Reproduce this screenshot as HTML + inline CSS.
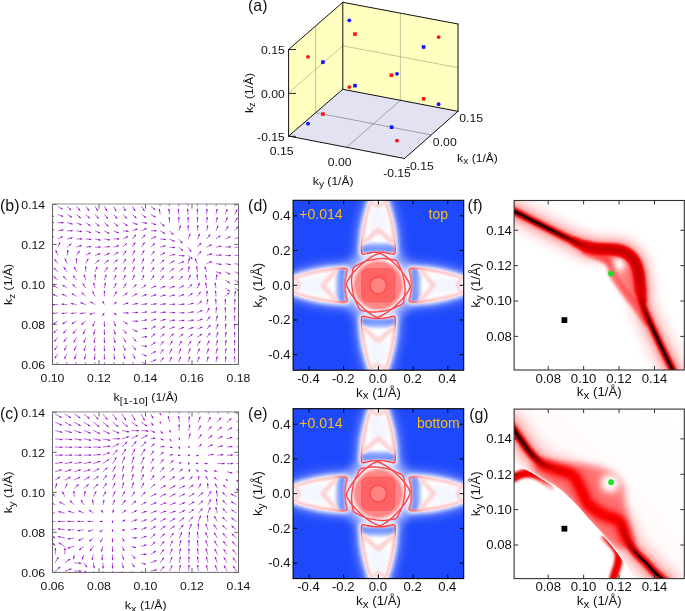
<!DOCTYPE html>
<html><head><meta charset="utf-8"><title>figure</title>
<style>
html,body{margin:0;padding:0;background:#fff;}
body{width:685px;height:611px;overflow:hidden;font-family:"Liberation Sans", sans-serif;}
svg{display:block;font-family:"Liberation Sans", sans-serif;will-change:transform;}
</style></head><body>
<svg width="685" height="611" viewBox="0 0 685 611">
<rect x="0" y="0" width="685" height="611" fill="#ffffff"/>
<g id="panel-a">
<polygon points="288.60,49.50 342.80,2.30 342.80,89.30 288.60,136.10" fill="#ffffbf"/>
<polygon points="342.80,2.30 458.00,24.00 458.00,111.30 342.80,89.30" fill="#ffffbf"/>
<polygon points="288.60,136.10 342.80,89.30 458.00,111.30 404.50,158.50" fill="#e2e2f3"/>
<line x1="315.70" y1="25.90" x2="315.70" y2="112.70" stroke="#8c8c70" stroke-width="0.5" fill="none"/>
<line x1="288.60" y1="92.80" x2="342.80" y2="45.80" stroke="#8c8c70" stroke-width="0.5" fill="none"/>
<line x1="400.40" y1="13.15" x2="400.40" y2="100.30" stroke="#8c8c70" stroke-width="0.5" fill="none"/>
<line x1="342.80" y1="45.80" x2="458.00" y2="67.65" stroke="#8c8c70" stroke-width="0.5" fill="none"/>
<line x1="315.70" y1="112.70" x2="431.25" y2="134.90" stroke="#707078" stroke-width="0.6" fill="none"/>
<line x1="346.55" y1="147.30" x2="400.40" y2="100.30" stroke="#707078" stroke-width="0.6" fill="none"/>
<line x1="288.60" y1="49.50" x2="342.80" y2="2.30" stroke="#111" stroke-width="1" fill="none" stroke-linecap="round"/>
<line x1="342.80" y1="2.30" x2="458.00" y2="24.00" stroke="#111" stroke-width="1" fill="none" stroke-linecap="round"/>
<line x1="458.00" y1="24.00" x2="458.00" y2="111.30" stroke="#111" stroke-width="1" fill="none" stroke-linecap="round"/>
<line x1="288.60" y1="49.50" x2="288.60" y2="136.10" stroke="#111" stroke-width="1" fill="none" stroke-linecap="round"/>
<line x1="342.80" y1="2.30" x2="342.80" y2="89.30" stroke="#111" stroke-width="1" fill="none" stroke-linecap="round"/>
<line x1="288.60" y1="136.10" x2="404.50" y2="158.50" stroke="#111" stroke-width="1" fill="none" stroke-linecap="round"/>
<line x1="404.50" y1="158.50" x2="458.00" y2="111.30" stroke="#111" stroke-width="1" fill="none" stroke-linecap="round"/>
<line x1="342.80" y1="89.30" x2="458.00" y2="111.30" stroke="#111" stroke-width="1" fill="none" stroke-linecap="round"/>
<line x1="288.60" y1="136.10" x2="342.80" y2="89.30" stroke="#111" stroke-width="1" fill="none" stroke-linecap="round"/>
<line x1="288.6" y1="49.5" x2="296" y2="49.5" stroke="#111" stroke-width="0.9"/>
<line x1="288.6" y1="93.4" x2="296" y2="93.4" stroke="#111" stroke-width="0.9"/>
<line x1="288.6" y1="136.3" x2="296" y2="136.3" stroke="#111" stroke-width="0.9"/>
<circle cx="349.3" cy="20.3" r="1.9" fill="#1010ff"/>
<rect x="353.20" y="32.30" width="3.6" height="3.6" fill="#ff1010"/>
<circle cx="438.6" cy="37.1" r="1.9" fill="#ff1010"/>
<rect x="421.80" y="45.20" width="3.6" height="3.6" fill="#1010ff"/>
<rect x="389.60" y="73.40" width="3.6" height="3.6" fill="#ff1010"/>
<circle cx="397.0" cy="73.8" r="1.9" fill="#1010ff"/>
<circle cx="349.3" cy="87.1" r="1.9" fill="#ff1010"/>
<rect x="353.20" y="83.90" width="3.6" height="3.6" fill="#1010ff"/>
<rect x="421.80" y="97.00" width="3.6" height="3.6" fill="#ff1010"/>
<circle cx="438.6" cy="104.2" r="1.9" fill="#1010ff"/>
<circle cx="308.0" cy="56.8" r="1.9" fill="#ff1010"/>
<rect x="321.10" y="60.30" width="3.6" height="3.6" fill="#1010ff"/>
<rect x="321.10" y="112.30" width="3.6" height="3.6" fill="#ff1010"/>
<circle cx="308.0" cy="123.7" r="1.9" fill="#1010ff"/>
<rect x="389.80" y="125.40" width="3.6" height="3.6" fill="#1010ff"/>
<circle cx="397.0" cy="140.7" r="1.9" fill="#ff1010"/>
<text x="248.00" y="11.00" font-size="15.90" text-anchor="start" fill="#111">(a)</text>
<text x="284.80" y="54.00" font-size="11.23" text-anchor="end" fill="#111" textLength="23.83" lengthAdjust="spacingAndGlyphs">0.15</text>
<text x="284.80" y="97.90" font-size="11.23" text-anchor="end" fill="#111" textLength="23.83" lengthAdjust="spacingAndGlyphs">0.00</text>
<text x="284.80" y="141.30" font-size="11.23" text-anchor="end" fill="#111" textLength="27.69" lengthAdjust="spacingAndGlyphs">-0.15</text>
<text x="281.60" y="154.60" font-size="11.23" text-anchor="middle" fill="#111" textLength="23.83" lengthAdjust="spacingAndGlyphs">0.15</text>
<text x="339.60" y="166.00" font-size="11.23" text-anchor="middle" fill="#111" textLength="23.83" lengthAdjust="spacingAndGlyphs">0.00</text>
<text x="397.00" y="177.20" font-size="11.23" text-anchor="middle" fill="#111" textLength="27.69" lengthAdjust="spacingAndGlyphs">-0.15</text>
<text x="471.20" y="121.80" font-size="11.23" text-anchor="middle" fill="#111" textLength="23.83" lengthAdjust="spacingAndGlyphs">0.15</text>
<text x="444.80" y="145.70" font-size="11.23" text-anchor="middle" fill="#111" textLength="23.83" lengthAdjust="spacingAndGlyphs">0.00</text>
<text x="419.80" y="169.80" font-size="11.23" text-anchor="middle" fill="#111" textLength="27.69" lengthAdjust="spacingAndGlyphs">-0.15</text>
<g>
<text x="312.73" y="185.00" font-size="11.23" text-anchor="start" fill="#111" textLength="6.20" lengthAdjust="spacingAndGlyphs">k</text>
<text x="318.92" y="187.20" font-size="8.99" text-anchor="start" fill="#111" textLength="5.07" lengthAdjust="spacingAndGlyphs">y</text>
<text x="327.39" y="185.00" font-size="11.23" text-anchor="start" fill="#111" textLength="26.08" lengthAdjust="spacingAndGlyphs">(1/Å)</text>
</g>
<g>
<text x="457.13" y="161.80" font-size="11.23" text-anchor="start" fill="#111" textLength="6.20" lengthAdjust="spacingAndGlyphs">k</text>
<text x="463.32" y="164.00" font-size="8.99" text-anchor="start" fill="#111" textLength="5.07" lengthAdjust="spacingAndGlyphs">x</text>
<text x="471.79" y="161.80" font-size="11.23" text-anchor="start" fill="#111" textLength="26.08" lengthAdjust="spacingAndGlyphs">(1/Å)</text>
</g>
<g transform="rotate(-90 253.00 93.00)">
<text x="232.91" y="93.00" font-size="11.23" text-anchor="start" fill="#111" textLength="6.20" lengthAdjust="spacingAndGlyphs">k</text>
<text x="239.11" y="95.20" font-size="8.99" text-anchor="start" fill="#111" textLength="4.49" lengthAdjust="spacingAndGlyphs">z</text>
<text x="247.00" y="93.00" font-size="11.23" text-anchor="start" fill="#111" textLength="26.08" lengthAdjust="spacingAndGlyphs">(1/Å)</text>
</g>
</g>
<g id="panel-b">
<clipPath id="aclip-b"><rect x="51.9" y="203.8" width="187.2" height="161.19999999999996"/></clipPath><g clip-path="url(#aclip-b)"><path d="M48.6 198.0L53.2 201.2M57.9 198.0L62.5 201.2M67.2 198.0L71.2 202.0M76.5 198.0L80.1 202.3M85.8 198.0L89.0 202.6M95.1 198.0L97.9 202.8M104.4 198.0L107.0 202.9M113.7 198.0L116.1 203.1M123.0 198.0L125.6 202.9M132.3 198.0L135.1 202.8M141.6 198.0L144.4 202.8M150.9 198.0L155.2 201.6M160.2 198.0L159.2 192.5M169.5 198.0L168.8 192.4M178.8 198.0L178.3 192.4M188.1 198.0L187.6 192.4M197.4 198.0L197.4 192.4M206.7 198.0L206.9 192.4M216.0 198.0L217.0 192.5M225.3 198.0L227.0 192.7M234.6 198.0L237.0 192.9M48.6 206.2L53.2 209.4M57.9 206.2L62.5 209.4M67.2 206.2L71.2 210.2M76.5 206.2L80.1 210.5M85.8 206.2L89.0 210.8M95.1 206.2L97.9 211.0M104.4 206.2L107.0 211.1M113.7 206.2L116.1 211.3M123.0 206.2L125.6 211.1M132.3 206.2L135.1 211.0M141.6 206.2L144.4 211.0M150.9 206.2L155.2 209.8M160.2 206.2L159.2 200.7M169.5 206.2L168.8 200.6M178.8 206.2L178.3 200.6M188.1 206.2L187.6 200.6M197.4 206.2L197.4 200.6M206.7 206.2L206.9 200.6M216.0 206.2L217.0 200.7M225.3 206.2L227.0 200.9M234.6 206.2L237.0 201.1M48.6 214.4L53.9 216.3M57.9 214.4L63.1 216.5M67.2 214.4L71.9 217.3M76.5 214.4L80.7 218.1M85.8 214.4L89.7 218.4M95.1 214.4L98.6 218.8M104.4 214.4L107.8 218.9M113.7 214.4L117.2 218.8M123.0 214.4L126.8 218.5M132.3 214.4L136.4 218.1M141.6 214.4L146.0 217.8M150.9 214.4L155.7 217.2M160.2 214.4L159.2 208.9M169.5 214.4L168.8 208.8M178.8 214.4L178.3 208.8M188.1 214.4L187.6 208.8M197.4 214.4L197.4 208.8M206.7 214.4L206.9 208.8M216.0 214.4L217.2 208.9M225.3 214.4L227.2 209.1M234.6 214.4L237.2 209.5M48.6 222.6L54.2 222.6M57.9 222.6L63.5 222.7M67.2 222.6L72.6 224.1M76.5 222.6L81.5 225.0M85.8 222.6L90.4 225.9M95.1 222.6L99.4 226.2M104.4 222.6L108.5 226.4M113.7 222.6L118.0 226.2M123.0 222.6L127.6 225.9M132.3 222.6L137.5 224.6M141.6 222.6L147.1 223.2M150.9 222.6L156.0 225.0M160.2 222.6L164.5 226.2M169.5 222.6L169.3 217.0M178.8 222.6L178.8 217.0M188.1 222.6L188.1 217.0M197.4 222.6L197.6 217.0M206.7 222.6L207.2 217.0M216.0 222.6L217.4 217.2M225.3 222.6L227.4 217.4M234.6 222.6L237.4 217.8M48.6 230.8L54.1 229.8M57.9 230.8L63.4 229.8M67.2 230.8L72.8 230.8M76.5 230.8L82.0 231.8M85.8 230.8L91.1 232.7M95.1 230.8L100.2 233.2M104.4 230.8L109.3 233.6M113.7 230.8L118.8 233.1M123.0 230.8L128.6 231.3M132.3 230.8L137.5 228.9M141.6 230.8L146.7 228.4M150.9 230.8L156.5 230.8M160.2 230.8L165.0 233.6M169.5 230.8L173.5 234.8M178.8 230.8L180.5 225.5M188.1 230.8L188.3 225.2M197.4 230.8L197.9 225.2M206.7 230.8L207.9 225.3M216.0 230.8L218.1 225.6M225.3 230.8L228.3 226.1M234.6 230.8L238.2 226.5M48.6 239.0L53.7 236.6M57.9 239.0L62.8 236.5M67.2 239.0L72.6 237.7M76.5 239.0L82.1 238.9M85.8 239.0L91.4 239.4M95.1 239.0L100.6 240.1M104.4 239.0L109.9 240.0M113.7 239.0L119.3 238.9M123.0 239.0L128.0 236.5M132.3 239.0L135.9 234.7M141.6 239.0L145.2 234.7M150.9 239.0L156.0 236.6M160.2 239.0L165.8 239.5M169.5 239.0L174.6 241.4M178.8 239.0L182.4 243.3M188.1 239.0L190.2 233.8M197.4 239.0L199.7 233.9M206.7 239.0L210.1 234.6M216.0 239.0L220.4 235.6M225.3 239.0L230.4 236.6M234.6 239.0L239.9 237.1M48.6 247.2L51.4 242.4M57.9 247.2L60.1 242.3M67.2 247.2L71.4 243.7M76.5 247.2L81.7 245.4M85.8 247.2L91.3 246.5M95.1 247.2L100.7 247.0M104.4 247.2L109.9 246.5M113.7 247.2L119.0 245.5M123.0 247.2L126.9 243.2M132.3 247.2L135.2 242.4M141.6 247.2L144.5 242.4M150.9 247.2L154.9 243.2M160.2 247.2L165.6 245.8M169.5 247.2L175.1 247.7M178.8 247.2L183.1 250.8M188.1 247.2L191.3 251.8M197.4 247.2L201.1 243.0M206.7 247.2L211.6 244.6M216.0 247.2L221.5 246.0M225.3 247.2L230.9 246.7M234.6 247.2L240.2 247.2M48.6 255.4L46.7 250.1M57.9 255.4L55.7 250.3M67.2 255.4L68.0 250.0M76.5 255.4L79.5 250.9M85.8 255.4L90.5 252.6M95.1 255.4L100.3 253.6M104.4 255.4L109.5 253.2M113.7 255.4L118.2 252.0M123.0 255.4L126.2 250.8M132.3 255.4L134.9 250.4M141.6 255.4L144.2 250.4M150.9 255.4L154.5 251.1M160.2 255.4L165.0 252.6M169.5 255.4L175.0 254.4M178.8 255.4L184.4 255.9M188.1 255.4L192.4 259.0M197.4 255.4L201.1 251.2M206.7 255.4L212.0 253.7M216.0 255.4L221.6 254.9M225.3 255.4L230.9 255.6M234.6 255.4L240.2 255.6M48.6 263.6L45.4 259.0M57.9 263.6L54.5 259.2M67.2 263.6L64.9 258.5M76.5 263.6L76.4 258.1M85.8 263.6L88.3 258.8M95.1 263.6L99.2 260.0M104.4 263.6L108.7 260.1M113.7 263.6L117.5 259.5M123.0 263.6L125.9 258.8M132.3 263.6L134.6 258.5M141.6 263.6L143.9 258.5M150.9 263.6L154.1 259.0M160.2 263.6L164.2 259.6M169.5 263.6L174.3 260.8M178.8 263.6L184.0 261.5M188.1 263.6L189.5 258.2M197.4 263.6L195.0 258.5M206.7 263.6L211.9 261.5M216.0 263.6L221.5 264.4M225.3 263.6L230.8 264.8M234.6 263.6L240.1 264.6M48.6 271.8L44.6 267.8M57.9 271.8L53.8 268.0M67.2 271.8L63.7 267.4M76.5 271.8L74.2 266.8M85.8 271.8L85.7 266.3M95.1 271.8L97.1 266.7M104.4 271.8L107.6 267.3M113.7 271.8L116.9 267.2M123.0 271.8L125.7 266.9M132.3 271.8L134.6 266.7M141.6 271.8L143.8 266.7M150.9 271.8L154.1 267.2M160.2 271.8L163.8 267.5M169.5 271.8L173.8 268.2M178.8 271.8L183.1 268.2M188.1 271.8L189.3 266.3M197.4 271.8L196.7 266.2M206.7 271.8L204.8 266.5M216.0 271.8L221.4 273.2M225.3 271.8L230.2 274.4M234.6 271.8L239.7 274.2M48.6 280.0L44.3 276.4M57.9 280.0L53.5 276.6M67.2 280.0L63.1 276.2M76.5 280.0L73.1 275.5M85.8 280.0L84.0 274.7M95.1 280.0L95.2 274.4M104.4 280.0L106.2 274.8M113.7 280.0L116.2 275.0M123.0 280.0L125.5 275.0M132.3 280.0L134.5 274.9M141.6 280.0L144.1 275.0M150.9 280.0L154.1 275.4M160.2 280.0L163.8 275.7M169.5 280.0L173.5 276.0M178.8 280.0L182.8 276.0M188.1 280.0L190.5 274.9M197.4 280.0L197.2 274.4M206.7 280.0L205.3 274.6M216.0 280.0L217.0 274.5M225.3 280.0L229.9 283.2M234.6 280.0L239.4 282.8M48.6 288.2L43.8 285.4M57.9 288.2L53.1 285.4M67.2 288.2L62.6 285.0M76.5 288.2L72.5 284.2M85.8 288.2L82.8 283.5M95.1 288.2L93.7 282.8M104.4 288.2L105.4 282.7M113.7 288.2L116.3 283.3M123.0 288.2L126.2 283.6M132.3 288.2L136.5 284.5M141.6 288.2L146.0 284.8M150.9 288.2L156.0 285.8M160.2 288.2L165.4 286.1M169.5 288.2L174.7 286.1M178.8 288.2L183.7 285.6M188.1 288.2L192.1 284.2M197.4 288.2L199.5 283.0M206.7 288.2L205.7 282.7M216.0 288.2L215.0 282.7M225.3 288.2L229.9 291.4M234.6 288.2L239.4 291.0M48.6 296.4L43.4 294.3M57.9 296.4L52.7 294.3M67.2 296.4L62.1 294.0M76.5 296.4L71.8 293.4M85.8 296.4L81.8 292.4M95.1 296.4L92.5 291.5M104.4 296.4L104.4 290.8M113.7 296.4L116.7 291.7M123.0 296.4L127.3 292.8M132.3 296.4L137.1 293.6M141.6 296.4L146.8 294.3M150.9 296.4L156.2 294.7M160.2 296.4L165.6 295.0M169.5 296.4L174.9 295.0M178.8 296.4L184.1 294.5M188.1 296.4L192.7 293.2M197.4 296.4L200.6 291.8M206.7 296.4L207.2 290.8M216.0 296.4L215.5 290.8M225.3 296.4L229.3 292.4M234.6 296.4L235.6 290.9M48.6 304.6L43.0 304.6M57.9 304.6L52.3 304.6M67.2 304.6L61.6 304.1M76.5 304.6L71.0 303.4M85.8 304.6L80.5 302.7M95.1 304.6L90.3 301.8M104.4 304.6L102.7 301.0M113.7 304.6L116.6 302.0M123.0 304.6L128.3 302.9M132.3 304.6L137.8 303.4M141.6 304.6L147.1 303.8M150.9 304.6L156.4 303.8M160.2 304.6L165.7 303.8M169.5 304.6L175.1 304.1M178.8 304.6L184.4 304.1M188.1 304.6L193.5 303.2M197.4 304.6L201.7 301.0M206.7 304.6L207.9 299.1M216.0 304.6L215.7 299.0M225.3 304.6L225.3 299.0M234.6 304.6L235.1 299.0M48.6 312.8L43.1 313.6M57.9 312.8L52.4 313.6M67.2 312.8L61.7 313.6M76.5 312.8L71.0 313.6M85.8 312.8L80.3 313.6M95.1 312.8L89.7 314.2M104.4 312.8L102.6 315.6M113.7 312.8L116.5 314.7M123.0 312.8L128.6 313.1M132.3 312.8L137.9 312.3M141.6 312.8L147.1 311.8M150.9 312.8L156.4 311.8M160.2 312.8L165.7 312.0M169.5 312.8L175.1 312.5M178.8 312.8L184.4 312.8M188.1 312.8L193.6 311.8M197.4 312.8L202.3 310.2M206.7 312.8L209.3 307.9M216.0 312.8L216.5 307.2M225.3 312.8L225.3 307.2M234.6 312.8L234.8 307.2M48.6 321.0L44.0 324.2M57.9 321.0L53.3 324.2M67.2 321.0L62.5 324.0M76.5 321.0L71.8 324.0M85.8 321.0L81.5 324.6M95.1 321.0L92.7 326.1M104.4 321.0L104.4 326.6M113.7 321.0L115.6 326.3M123.0 321.0L127.6 324.2M132.3 321.0L137.9 321.3M141.6 321.0L147.1 319.8M150.9 321.0L156.1 318.9M160.2 321.0L165.5 319.3M169.5 321.0L175.0 320.0M178.8 321.0L184.3 320.2M188.1 321.0L193.6 320.0M197.4 321.0L202.6 318.9M206.7 321.0L210.1 316.6M216.0 321.0L217.4 315.6M225.3 321.0L225.7 315.4M234.6 321.0L234.6 315.4M48.6 329.2L44.4 332.9M57.9 329.2L53.7 332.9M67.2 329.2L63.2 333.2M76.5 329.2L72.9 333.5M85.8 329.2L83.0 334.0M95.1 329.2L93.7 334.6M104.4 329.2L104.4 334.8M113.7 329.2L115.4 334.5M123.0 329.2L126.4 333.6M132.3 329.2L137.4 331.6M141.6 329.2L147.1 328.2M150.9 329.2L155.5 326.0M160.2 329.2L165.0 326.4M169.5 329.2L174.5 326.7M178.8 329.2L184.1 327.3M188.1 329.2L193.4 327.5M197.4 329.2L202.5 326.8M206.7 329.2L210.4 325.0M216.0 329.2L218.1 324.0M225.3 329.2L225.9 323.6M234.6 329.2L234.6 323.6M48.6 337.4L44.9 341.6M57.9 337.4L54.2 341.6M67.2 337.4L63.8 341.8M76.5 337.4L73.7 342.2M85.8 337.4L83.9 342.7M95.1 337.4L94.1 342.9M104.4 337.4L104.4 343.0M113.7 337.4L115.1 342.8M123.0 337.4L125.8 342.2M132.3 337.4L136.3 341.4M141.6 337.4L147.1 336.6M150.9 337.4L155.1 333.7M160.2 337.4L164.4 333.7M169.5 337.4L173.7 333.7M178.8 337.4L183.2 334.0M188.1 337.4L192.7 334.2M197.4 337.4L201.8 334.0M206.7 337.4L210.1 333.0M216.0 337.4L218.1 332.2M225.3 337.4L226.1 331.9M234.6 337.4L234.6 331.8M48.6 345.6L45.2 350.0M57.9 345.6L54.5 350.0M67.2 345.6L64.2 350.3M76.5 345.6L74.1 350.7M85.8 345.6L84.1 350.9M95.1 345.6L94.3 351.1M104.4 345.6L104.4 351.2M113.7 345.6L114.9 351.1M123.0 345.6L125.4 350.7M132.3 345.6L135.7 350.0M141.6 345.6L147.1 346.4M150.9 345.6L155.3 342.2M160.2 345.6L163.6 341.2M169.5 345.6L172.5 340.9M178.8 345.6L181.8 340.9M188.1 345.6L191.1 340.9M197.4 345.6L200.4 340.9M206.7 345.6L209.3 340.7M216.0 345.6L217.7 340.3M225.3 345.6L226.1 340.1M234.6 345.6L234.6 340.0M48.6 353.8L45.4 358.4M57.9 353.8L54.7 358.4M67.2 353.8L64.4 358.6M76.5 353.8L74.4 359.0M85.8 353.8L84.4 359.2M95.1 353.8L94.4 359.4M104.4 353.8L104.4 359.4M113.7 353.8L114.7 359.3M123.0 353.8L125.1 359.0M132.3 353.8L135.3 358.5M141.6 353.8L146.7 356.2M150.9 353.8L156.0 351.4M160.2 353.8L163.4 349.2M169.5 353.8L171.9 348.7M178.8 353.8L180.9 348.6M188.1 353.8L190.2 348.6M197.4 353.8L199.5 348.6M206.7 353.8L208.6 348.5M216.0 353.8L217.4 348.4M225.3 353.8L226.1 348.3M234.6 353.8L234.6 348.2M48.6 362.0L45.5 366.6M57.9 362.0L54.8 366.6M67.2 362.0L64.6 366.9M76.5 362.0L74.6 367.3M85.8 362.0L84.4 367.4M95.1 362.0L94.5 367.6M104.4 362.0L104.4 367.6M113.7 362.0L114.7 367.5M123.0 362.0L124.9 367.3M132.3 362.0L135.1 366.8M141.6 362.0L146.4 364.8M150.9 362.0L156.0 359.6M160.2 362.0L163.6 357.6M169.5 362.0L171.7 356.8M178.8 362.0L180.7 356.7M188.1 362.0L189.8 356.7M197.4 362.0L199.1 356.7M206.7 362.0L208.2 356.6M216.0 362.0L217.2 356.5M225.3 362.0L225.9 356.4M234.6 362.0L234.6 356.4" fill="none" stroke="#9400d3" stroke-width="0.75" stroke-opacity="0.8"/><path d="M53.5 201.4L50.9 200.6L51.9 199.3ZM62.8 201.4L60.2 200.6L61.2 199.3ZM71.4 202.2L69.0 201.0L70.2 199.8ZM80.4 202.6L78.0 201.2L79.3 200.1ZM89.2 202.9L87.1 201.3L88.4 200.3ZM98.1 203.2L96.1 201.4L97.5 200.5ZM107.2 203.3L105.2 201.4L106.7 200.6ZM116.2 203.4L114.4 201.4L115.9 200.7ZM125.8 203.3L123.8 201.4L125.3 200.6ZM135.3 203.2L133.3 201.4L134.7 200.5ZM144.6 203.2L142.6 201.4L144.0 200.5ZM155.5 201.9L153.0 200.8L154.1 199.5ZM159.2 192.1L160.4 194.5L158.8 194.8ZM168.8 192.0L169.9 194.5L168.2 194.7ZM178.3 192.0L179.4 194.5L177.7 194.7ZM187.6 192.0L188.7 194.5L187.0 194.7ZM197.4 192.0L198.2 194.6L196.6 194.6ZM206.9 192.0L207.7 194.6L206.0 194.6ZM217.0 192.1L217.4 194.8L215.8 194.5ZM227.2 192.3L227.2 195.0L225.5 194.5ZM237.1 192.6L236.8 195.3L235.3 194.6ZM53.5 209.6L50.9 208.8L51.9 207.5ZM62.8 209.6L60.2 208.8L61.2 207.5ZM71.4 210.4L69.0 209.2L70.2 208.0ZM80.4 210.8L78.0 209.4L79.3 208.3ZM89.2 211.1L87.1 209.5L88.4 208.5ZM98.1 211.4L96.1 209.6L97.5 208.7ZM107.2 211.5L105.2 209.6L106.7 208.8ZM116.2 211.6L114.4 209.6L115.9 208.9ZM125.8 211.5L123.8 209.6L125.3 208.8ZM135.3 211.4L133.3 209.6L134.7 208.7ZM144.6 211.4L142.6 209.6L144.0 208.7ZM155.5 210.1L153.0 209.0L154.1 207.7ZM159.2 200.3L160.4 202.7L158.8 203.0ZM168.8 200.2L169.9 202.7L168.2 202.9ZM178.3 200.2L179.4 202.7L177.7 202.9ZM187.6 200.2L188.7 202.7L187.0 202.9ZM197.4 200.2L198.2 202.8L196.6 202.8ZM206.9 200.2L207.7 202.8L206.0 202.8ZM217.0 200.3L217.4 203.0L215.8 202.7ZM227.2 200.5L227.2 203.2L225.5 202.7ZM237.1 200.8L236.8 203.5L235.3 202.8ZM54.2 216.5L51.5 216.4L52.1 214.8ZM63.5 216.6L60.7 216.4L61.4 214.9ZM72.3 217.5L69.6 216.9L70.5 215.5ZM81.0 218.3L78.5 217.3L79.6 216.0ZM89.9 218.7L87.5 217.4L88.8 216.3ZM98.9 219.1L96.6 217.6L97.9 216.5ZM108.0 219.2L105.8 217.6L107.1 216.6ZM117.4 219.1L115.1 217.6L116.5 216.5ZM127.1 218.8L124.7 217.4L125.9 216.3ZM136.7 218.4L134.2 217.3L135.4 216.0ZM146.3 218.1L143.7 217.1L144.8 215.8ZM156.1 217.4L153.4 216.8L154.3 215.4ZM159.2 208.5L160.4 210.9L158.8 211.2ZM168.8 208.4L169.9 210.9L168.2 211.1ZM178.3 208.4L179.4 210.9L177.7 211.1ZM187.6 208.4L188.7 210.9L187.0 211.1ZM197.4 208.4L198.2 211.0L196.6 211.0ZM206.9 208.4L207.7 211.0L206.0 211.0ZM217.2 208.5L217.5 211.3L215.9 210.9ZM227.4 208.8L227.3 211.5L225.7 210.9ZM237.4 209.1L236.9 211.8L235.4 211.0ZM54.6 222.6L52.0 223.4L52.0 221.8ZM63.9 222.7L61.3 223.5L61.3 221.8ZM73.0 224.2L70.2 224.3L70.7 222.7ZM81.9 225.2L79.2 224.8L79.9 223.3ZM90.7 226.1L88.1 225.3L89.1 223.9ZM99.7 226.5L97.1 225.5L98.2 224.2ZM108.8 226.7L106.3 225.5L107.5 224.3ZM118.3 226.5L115.7 225.5L116.8 224.2ZM127.9 226.1L125.3 225.3L126.3 223.9ZM137.9 224.8L135.2 224.6L135.8 223.0ZM147.5 223.3L144.8 223.8L145.0 222.1ZM156.3 225.1L153.6 224.8L154.3 223.3ZM164.8 226.5L162.3 225.4L163.4 224.1ZM169.3 216.6L170.2 219.2L168.5 219.2ZM178.8 216.6L179.7 219.2L178.0 219.2ZM188.1 216.6L189.0 219.2L187.3 219.2ZM197.6 216.6L198.4 219.2L196.7 219.2ZM207.2 216.6L207.8 219.3L206.1 219.1ZM217.6 216.8L217.7 219.5L216.1 219.1ZM227.5 217.0L227.4 219.8L225.8 219.1ZM237.6 217.4L237.0 220.1L235.6 219.2ZM54.5 229.8L52.1 231.0L51.8 229.4ZM63.8 229.7L61.4 231.0L61.1 229.4ZM73.2 230.8L70.6 231.6L70.6 229.9ZM82.4 231.8L79.7 232.2L80.0 230.5ZM91.4 232.8L88.7 232.8L89.3 231.2ZM100.5 233.3L97.8 233.0L98.5 231.5ZM109.6 233.8L106.9 233.2L107.8 231.8ZM119.1 233.3L116.4 233.0L117.1 231.5ZM129.0 231.3L126.3 231.9L126.5 230.2ZM137.9 228.7L135.8 230.4L135.2 228.8ZM147.0 228.2L145.0 230.1L144.3 228.6ZM156.9 230.8L154.3 231.6L154.3 229.9ZM165.4 233.8L162.7 233.2L163.6 231.8ZM173.7 235.0L171.3 233.8L172.5 232.6ZM180.7 225.1L180.7 227.8L179.0 227.3ZM188.3 224.8L189.1 227.4L187.4 227.4ZM197.9 224.8L198.5 227.5L196.8 227.3ZM207.9 224.9L208.2 227.7L206.6 227.3ZM218.2 225.2L218.1 228.0L216.5 227.3ZM228.5 225.7L227.8 228.4L226.4 227.5ZM238.5 226.2L237.4 228.7L236.1 227.6ZM54.0 236.5L52.0 238.3L51.3 236.8ZM63.2 236.3L61.2 238.2L60.5 236.7ZM73.0 237.6L70.7 239.0L70.3 237.4ZM82.5 238.9L79.9 239.8L79.9 238.1ZM91.8 239.4L89.1 240.1L89.2 238.4ZM101.0 240.2L98.3 240.5L98.6 238.8ZM110.3 240.1L107.6 240.5L107.9 238.8ZM119.7 238.9L117.1 239.8L117.1 238.1ZM128.4 236.3L126.4 238.3L125.6 236.7ZM136.1 234.4L135.1 236.9L133.8 235.8ZM145.4 234.4L144.4 236.9L143.1 235.8ZM156.3 236.5L154.3 238.3L153.6 236.8ZM166.2 239.5L163.5 240.1L163.7 238.4ZM174.9 241.5L172.2 241.2L172.9 239.7ZM182.7 243.6L180.3 242.2L181.6 241.1ZM190.3 233.4L190.2 236.2L188.6 235.5ZM199.8 233.5L199.6 236.2L198.0 235.5ZM210.4 234.3L209.5 236.8L208.1 235.8ZM220.7 235.3L219.2 237.6L218.2 236.2ZM230.7 236.5L228.7 238.3L228.0 236.8ZM240.2 236.9L238.1 238.6L237.5 237.0ZM51.6 242.0L51.0 244.7L49.6 243.8ZM60.2 241.9L59.9 244.7L58.4 244.0ZM71.7 243.4L70.2 245.8L69.1 244.5ZM82.0 245.2L79.9 246.9L79.3 245.3ZM91.7 246.4L89.2 247.6L89.0 245.9ZM101.1 247.0L98.5 247.9L98.4 246.2ZM110.3 246.5L107.9 247.6L107.6 245.9ZM119.4 245.4L117.2 247.0L116.6 245.4ZM127.1 242.9L126.0 245.3L124.7 244.2ZM135.4 242.1L134.8 244.7L133.3 243.9ZM144.7 242.1L144.1 244.7L142.6 243.9ZM155.1 243.0L153.9 245.4L152.7 244.2ZM166.0 245.6L163.7 247.1L163.3 245.5ZM175.5 247.7L172.8 248.3L173.0 246.6ZM183.4 251.1L180.9 250.0L182.0 248.7ZM191.5 252.1L189.4 250.5L190.7 249.5ZM201.4 242.7L200.3 245.2L199.0 244.1ZM212.0 244.4L210.1 246.4L209.3 244.9ZM221.9 246.0L219.5 247.3L219.1 245.7ZM231.3 246.7L228.8 247.8L228.6 246.1ZM240.6 247.2L238.0 248.0L238.0 246.3ZM46.5 249.8L48.2 251.9L46.6 252.5ZM55.6 249.9L57.4 252.0L55.8 252.6ZM68.0 249.6L68.5 252.3L66.8 252.1ZM79.7 250.5L79.0 253.2L77.6 252.2ZM90.8 252.4L89.1 254.4L88.2 253.0ZM100.7 253.5L98.5 255.1L98.0 253.5ZM109.9 253.1L107.8 254.9L107.2 253.3ZM118.5 251.8L116.9 254.0L115.9 252.7ZM126.4 250.5L125.6 253.1L124.2 252.1ZM135.1 250.1L134.6 252.8L133.1 252.0ZM144.4 250.1L143.9 252.8L142.4 252.0ZM154.8 250.8L153.7 253.3L152.4 252.2ZM165.4 252.4L163.6 254.4L162.7 253.0ZM175.4 254.4L173.0 255.6L172.7 254.0ZM184.8 255.9L182.1 256.5L182.3 254.8ZM192.7 259.3L190.2 258.2L191.3 256.9ZM201.4 250.9L200.3 253.4L199.0 252.3ZM212.4 253.5L210.2 255.2L209.7 253.5ZM222.0 254.9L219.5 256.0L219.3 254.3ZM231.3 255.6L228.7 256.4L228.7 254.7ZM240.6 255.6L238.0 256.4L238.0 254.7ZM45.2 258.7L47.3 260.3L46.0 261.3ZM54.2 258.9L56.5 260.4L55.2 261.4ZM64.8 258.2L66.6 260.2L65.1 260.9ZM76.3 257.7L77.3 260.3L75.6 260.3ZM88.5 258.4L88.0 261.1L86.5 260.3ZM99.5 259.7L98.1 262.1L97.0 260.8ZM109.0 259.9L107.5 262.1L106.5 260.8ZM117.8 259.2L116.6 261.7L115.4 260.5ZM126.1 258.5L125.5 261.1L124.0 260.3ZM134.8 258.2L134.5 260.9L133.0 260.2ZM144.1 258.2L143.8 260.9L142.3 260.2ZM154.3 258.7L153.5 261.3L152.2 260.3ZM164.4 259.4L163.2 261.8L162.0 260.6ZM174.7 260.6L172.9 262.6L172.0 261.2ZM184.4 261.4L182.3 263.1L181.6 261.5ZM189.7 257.8L189.8 260.5L188.2 260.1ZM194.9 258.2L196.7 260.2L195.2 260.9ZM212.3 261.4L210.2 263.1L209.5 261.5ZM221.9 264.4L219.2 264.9L219.5 263.2ZM231.2 264.8L228.4 265.1L228.8 263.5ZM240.5 264.6L237.8 265.0L238.1 263.4ZM44.4 267.6L46.8 268.8L45.6 270.0ZM53.5 267.7L56.0 268.9L54.8 270.1ZM63.5 267.1L65.8 268.6L64.4 269.7ZM74.0 266.4L75.9 268.4L74.3 269.1ZM85.6 265.9L86.6 268.5L84.9 268.5ZM97.3 266.3L97.1 269.1L95.5 268.4ZM107.8 266.9L107.0 269.5L105.6 268.6ZM117.2 266.9L116.4 269.5L115.0 268.5ZM125.9 266.6L125.4 269.3L123.9 268.4ZM134.7 266.3L134.5 269.0L132.9 268.3ZM144.0 266.3L143.7 269.0L142.2 268.3ZM154.3 266.9L153.5 269.5L152.2 268.5ZM164.1 267.2L163.0 269.7L161.7 268.6ZM174.1 267.9L172.7 270.3L171.6 269.0ZM183.4 267.9L182.0 270.3L180.9 269.0ZM189.3 265.9L189.6 268.7L188.0 268.3ZM196.7 265.8L197.8 268.3L196.1 268.5ZM204.6 266.2L206.3 268.3L204.7 268.9ZM221.8 273.4L219.1 273.5L219.5 271.9ZM230.6 274.6L227.9 274.1L228.7 272.6ZM240.0 274.3L237.3 274.0L238.0 272.5ZM44.0 276.1L46.5 277.2L45.4 278.5ZM53.2 276.3L55.8 277.2L54.7 278.6ZM62.8 275.9L65.3 277.1L64.1 278.3ZM72.9 275.2L75.1 276.8L73.8 277.8ZM83.9 274.3L85.5 276.5L83.9 277.1ZM95.2 274.0L96.0 276.6L94.3 276.6ZM106.4 274.4L106.3 277.1L104.7 276.6ZM116.4 274.7L116.0 277.4L114.5 276.6ZM125.7 274.6L125.3 277.4L123.8 276.6ZM134.7 274.5L134.4 277.2L132.9 276.5ZM144.3 274.7L143.9 277.4L142.4 276.6ZM154.3 275.1L153.5 277.7L152.2 276.7ZM164.1 275.4L163.0 277.9L161.7 276.8ZM173.7 275.8L172.5 278.2L171.3 277.0ZM183.0 275.8L181.8 278.2L180.6 277.0ZM190.6 274.6L190.3 277.3L188.8 276.6ZM197.2 274.0L198.1 276.6L196.4 276.6ZM205.1 274.2L206.6 276.5L205.0 276.9ZM217.0 274.1L217.4 276.8L215.8 276.5ZM230.2 283.4L227.6 282.6L228.6 281.3ZM239.8 283.0L237.1 282.4L238.0 281.0ZM43.4 285.2L46.1 285.8L45.2 287.2ZM52.7 285.2L55.4 285.8L54.5 287.2ZM62.3 284.8L64.9 285.6L63.9 286.9ZM72.3 284.0L74.7 285.2L73.5 286.4ZM82.6 283.1L84.7 284.9L83.3 285.8ZM93.5 282.4L95.0 284.7L93.4 285.1ZM105.4 282.3L105.8 285.0L104.2 284.7ZM116.5 282.9L116.0 285.6L114.5 284.8ZM126.4 283.3L125.6 285.9L124.3 284.9ZM136.8 284.2L135.4 286.6L134.3 285.3ZM146.3 284.5L144.8 286.8L143.8 285.4ZM156.3 285.7L154.3 287.5L153.6 286.0ZM165.8 286.0L163.7 287.7L163.0 286.1ZM175.1 286.0L173.0 287.7L172.3 286.1ZM184.1 285.4L182.2 287.4L181.4 285.9ZM192.3 284.0L191.1 286.4L189.9 285.2ZM199.6 282.6L199.5 285.4L197.9 284.7ZM205.7 282.3L206.9 284.7L205.3 285.0ZM215.0 282.3L216.2 284.7L214.6 285.0ZM230.2 291.6L227.6 290.8L228.6 289.5ZM239.8 291.2L237.1 290.6L238.0 289.2ZM43.0 294.2L45.8 294.3L45.1 295.9ZM52.3 294.2L55.1 294.3L54.4 295.9ZM61.8 293.9L64.5 294.2L63.8 295.7ZM71.4 293.2L74.1 293.9L73.2 295.3ZM81.6 292.2L84.0 293.4L82.8 294.6ZM92.3 291.1L94.3 293.0L92.8 293.8ZM104.4 290.4L105.2 293.0L103.6 293.0ZM116.9 291.3L116.2 294.0L114.8 293.1ZM127.6 292.5L126.2 294.9L125.1 293.6ZM137.5 293.4L135.7 295.4L134.8 294.0ZM147.2 294.2L145.1 295.9L144.4 294.3ZM156.6 294.5L154.4 296.2L153.9 294.5ZM166.0 294.8L163.7 296.3L163.3 294.7ZM175.3 294.8L173.0 296.3L172.6 294.7ZM184.4 294.3L182.3 296.0L181.7 294.4ZM193.0 293.0L191.4 295.1L190.4 293.8ZM200.8 291.5L200.0 294.1L198.7 293.1ZM207.2 290.4L207.8 293.1L206.1 292.9ZM215.5 290.4L216.6 292.9L214.9 293.1ZM229.5 292.2L228.3 294.6L227.1 293.4ZM235.6 290.5L236.0 293.2L234.4 292.9ZM42.6 304.6L45.2 303.7L45.2 305.4ZM51.9 304.6L54.5 303.7L54.5 305.4ZM61.2 304.1L63.9 303.5L63.7 305.2ZM70.6 303.4L73.4 303.1L73.0 304.7ZM80.2 302.5L82.9 302.6L82.3 304.2ZM89.9 301.6L92.6 302.2L91.7 303.6ZM102.6 300.7L104.4 302.7L102.9 303.4ZM116.9 301.7L115.5 304.1L114.4 302.8ZM128.7 302.7L126.5 304.4L126.0 302.7ZM138.2 303.4L135.8 304.7L135.4 303.1ZM147.5 303.8L145.1 305.0L144.8 303.3ZM156.8 303.8L154.4 305.0L154.1 303.3ZM166.1 303.8L163.7 305.0L163.4 303.3ZM175.5 304.1L173.0 305.2L172.8 303.5ZM184.8 304.1L182.3 305.2L182.1 303.5ZM193.9 303.0L191.6 304.5L191.2 302.9ZM202.0 300.7L200.6 303.1L199.5 301.8ZM207.9 298.7L208.2 301.5L206.6 301.1ZM215.7 298.6L216.7 301.2L215.0 301.2ZM225.3 298.6L226.2 301.2L224.5 301.2ZM235.1 298.6L235.7 301.3L234.0 301.1ZM42.7 313.6L45.1 312.4L45.4 314.1ZM52.0 313.6L54.4 312.4L54.7 314.1ZM61.3 313.6L63.7 312.4L64.0 314.1ZM70.6 313.6L73.0 312.4L73.3 314.1ZM79.9 313.6L82.3 312.4L82.6 314.1ZM89.3 314.4L91.6 312.9L92.0 314.5ZM102.4 316.0L103.1 313.3L104.5 314.2ZM116.8 315.0L114.2 314.2L115.1 312.8ZM129.0 313.1L126.4 313.8L126.4 312.1ZM138.3 312.3L135.8 313.4L135.6 311.7ZM147.5 311.8L145.1 313.0L144.8 311.4ZM156.8 311.8L154.4 313.0L154.1 311.4ZM166.1 312.0L163.7 313.2L163.4 311.5ZM175.5 312.5L172.9 313.5L172.9 311.8ZM184.8 312.8L182.2 313.6L182.2 311.9ZM194.0 311.8L191.6 313.0L191.3 311.4ZM202.7 310.0L200.8 312.0L200.0 310.5ZM209.5 307.5L209.0 310.2L207.5 309.4ZM216.5 306.8L217.1 309.5L215.4 309.3ZM225.3 306.8L226.2 309.4L224.5 309.4ZM234.8 306.8L235.6 309.4L233.9 309.4ZM43.7 324.4L45.3 322.3L46.3 323.6ZM53.0 324.4L54.6 322.3L55.6 323.6ZM62.1 324.2L63.9 322.1L64.8 323.5ZM71.4 324.2L73.2 322.1L74.1 323.5ZM81.2 324.9L82.6 322.5L83.7 323.8ZM92.6 326.4L92.9 323.7L94.4 324.4ZM104.4 327.0L103.6 324.4L105.2 324.4ZM115.8 326.6L114.1 324.5L115.7 323.9ZM127.9 324.4L125.3 323.6L126.3 322.3ZM138.3 321.3L135.7 322.0L135.7 320.3ZM147.5 319.8L145.1 321.1L144.7 319.5ZM156.5 318.8L154.4 320.5L153.7 318.9ZM165.9 319.1L163.7 320.8L163.2 319.1ZM175.4 320.0L173.0 321.2L172.7 319.6ZM184.7 320.2L182.3 321.4L182.0 319.7ZM194.0 320.0L191.6 321.2L191.3 319.6ZM203.0 318.8L200.9 320.5L200.2 318.9ZM210.4 316.3L209.5 318.8L208.1 317.8ZM217.6 315.2L217.7 317.9L216.1 317.5ZM225.7 315.0L226.4 317.7L224.7 317.5ZM234.6 315.0L235.5 317.6L233.8 317.6ZM44.1 333.2L45.5 330.8L46.6 332.1ZM53.4 333.2L54.8 330.8L55.9 332.1ZM63.0 333.4L64.2 331.0L65.4 332.2ZM72.6 333.8L73.7 331.3L75.0 332.4ZM82.8 334.4L83.4 331.7L84.8 332.6ZM93.5 335.0L93.4 332.3L95.0 332.7ZM104.4 335.2L103.6 332.6L105.2 332.6ZM115.6 334.9L113.9 332.7L115.6 332.2ZM126.7 333.9L124.4 332.4L125.8 331.4ZM137.7 331.7L135.0 331.4L135.7 329.9ZM147.5 328.2L145.1 329.4L144.8 327.8ZM155.8 325.8L154.2 327.9L153.2 326.6ZM165.4 326.2L163.6 328.2L162.7 326.8ZM174.9 326.6L172.9 328.5L172.2 326.9ZM184.4 327.1L182.3 328.8L181.7 327.2ZM193.8 327.3L191.6 329.0L191.1 327.3ZM202.8 326.7L200.8 328.5L200.1 327.0ZM210.7 324.7L209.6 327.2L208.3 326.1ZM218.2 323.6L218.1 326.4L216.5 325.7ZM225.9 323.2L226.5 325.9L224.8 325.7ZM234.6 323.2L235.5 325.8L233.8 325.8ZM44.6 341.9L45.7 339.4L47.0 340.5ZM53.9 341.9L55.0 339.4L56.3 340.5ZM63.5 342.1L64.4 339.6L65.8 340.6ZM73.5 342.6L74.1 339.9L75.5 340.8ZM83.7 343.0L83.8 340.3L85.4 340.9ZM94.1 343.3L93.7 340.6L95.3 340.9ZM104.4 343.4L103.6 340.8L105.2 340.8ZM115.3 343.2L113.8 340.9L115.4 340.5ZM126.0 342.6L124.0 340.8L125.4 339.9ZM136.5 341.6L134.1 340.4L135.3 339.2ZM147.5 336.6L145.1 337.8L144.8 336.1ZM155.4 333.4L154.0 335.8L152.9 334.5ZM164.7 333.4L163.3 335.8L162.2 334.5ZM174.0 333.4L172.6 335.8L171.5 334.5ZM183.5 333.7L182.0 336.0L181.0 334.6ZM193.0 334.0L191.4 336.1L190.4 334.8ZM202.1 333.7L200.6 336.0L199.6 334.6ZM210.4 332.7L209.5 335.2L208.1 334.2ZM218.2 331.8L218.1 334.6L216.5 333.9ZM226.1 331.5L226.6 334.2L224.9 333.9ZM234.6 331.4L235.5 334.0L233.8 334.0ZM44.9 350.3L45.8 347.8L47.2 348.8ZM54.2 350.3L55.1 347.8L56.5 348.8ZM64.0 350.7L64.7 348.0L66.1 348.9ZM74.0 351.0L74.3 348.3L75.8 349.0ZM83.9 351.3L83.9 348.6L85.6 349.1ZM94.3 351.5L93.8 348.8L95.5 349.1ZM104.4 351.6L103.6 349.0L105.2 349.0ZM114.9 351.5L113.6 349.1L115.2 348.7ZM125.5 351.0L123.7 349.0L125.2 348.3ZM136.0 350.3L133.7 348.8L135.1 347.8ZM147.5 346.4L144.8 346.9L145.1 345.2ZM155.6 341.9L154.1 344.2L153.1 342.8ZM163.9 340.9L163.0 343.4L161.6 342.4ZM172.7 340.5L172.0 343.2L170.6 342.3ZM182.0 340.5L181.3 343.2L179.9 342.3ZM191.3 340.5L190.6 343.2L189.2 342.3ZM200.6 340.5L199.9 343.2L198.5 342.3ZM209.5 340.3L209.0 343.0L207.5 342.2ZM217.9 339.9L217.9 342.6L216.2 342.1ZM226.1 339.7L226.6 342.4L224.9 342.1ZM234.6 339.6L235.5 342.2L233.8 342.2ZM45.2 358.7L46.0 356.1L47.3 357.1ZM54.5 358.7L55.3 356.1L56.6 357.1ZM64.2 359.0L64.8 356.3L66.2 357.2ZM74.3 359.4L74.4 356.6L76.0 357.3ZM84.2 359.6L84.1 356.9L85.7 357.3ZM94.4 359.8L93.8 357.1L95.5 357.3ZM104.4 359.8L103.6 357.2L105.2 357.2ZM114.7 359.7L113.5 357.3L115.1 357.0ZM125.2 359.4L123.5 357.3L125.1 356.6ZM135.5 358.9L133.4 357.1L134.8 356.2ZM147.0 356.3L144.3 356.0L145.0 354.5ZM156.3 351.3L154.3 353.1L153.6 351.6ZM163.6 348.9L162.8 351.5L161.5 350.5ZM172.0 348.4L171.7 351.1L170.2 350.4ZM181.0 348.2L180.9 351.0L179.3 350.3ZM190.3 348.2L190.2 351.0L188.6 350.3ZM199.6 348.2L199.5 351.0L197.9 350.3ZM208.8 348.2L208.7 350.9L207.1 350.3ZM217.6 348.0L217.7 350.7L216.1 350.3ZM226.1 347.9L226.6 350.6L224.9 350.3ZM234.6 347.8L235.5 350.4L233.8 350.4ZM45.2 367.0L46.0 364.3L47.4 365.3ZM54.5 367.0L55.3 364.3L56.7 365.3ZM64.4 367.3L64.9 364.6L66.4 365.4ZM74.4 367.6L74.5 364.9L76.1 365.5ZM84.3 367.8L84.2 365.1L85.8 365.5ZM94.5 368.0L93.9 365.3L95.6 365.5ZM104.4 368.0L103.6 365.4L105.2 365.4ZM114.7 367.9L113.5 365.5L115.1 365.2ZM125.1 367.6L123.4 365.5L125.0 364.9ZM135.3 367.2L133.3 365.4L134.7 364.5ZM146.8 365.0L144.1 364.4L145.0 363.0ZM156.3 359.5L154.3 361.3L153.6 359.8ZM163.9 357.3L163.0 359.8L161.6 358.8ZM171.8 356.5L171.6 359.2L170.0 358.5ZM180.9 356.4L180.8 359.1L179.2 358.5ZM190.0 356.3L190.0 359.0L188.3 358.5ZM199.3 356.3L199.3 359.0L197.6 358.5ZM208.4 356.2L208.5 359.0L206.8 358.5ZM217.2 356.1L217.5 358.9L215.9 358.5ZM225.9 356.0L226.5 358.7L224.8 358.5ZM234.6 356.0L235.5 358.6L233.8 358.6Z" fill="#9400d3" stroke="none"/></g>
<path d="M52.5 204.00V364.50H238.5V204.00" fill="none" stroke="#666" stroke-width="1"/>
<path d="M52.0 204.00H239.0" fill="none" stroke="#8c8c8c" stroke-width="1"/>
<text x="52.50" y="381.70" font-size="11.23" text-anchor="middle" fill="#111" textLength="23.83" lengthAdjust="spacingAndGlyphs">0.10</text>
<text x="99.00" y="381.70" font-size="11.23" text-anchor="middle" fill="#111" textLength="23.83" lengthAdjust="spacingAndGlyphs">0.12</text>
<text x="145.50" y="381.70" font-size="11.23" text-anchor="middle" fill="#111" textLength="23.83" lengthAdjust="spacingAndGlyphs">0.14</text>
<text x="192.00" y="381.70" font-size="11.23" text-anchor="middle" fill="#111" textLength="23.83" lengthAdjust="spacingAndGlyphs">0.16</text>
<text x="238.50" y="381.70" font-size="11.23" text-anchor="middle" fill="#111" textLength="23.83" lengthAdjust="spacingAndGlyphs">0.18</text>
<text x="45.20" y="208.70" font-size="11.23" text-anchor="end" fill="#111" textLength="23.83" lengthAdjust="spacingAndGlyphs">0.14</text>
<text x="45.20" y="248.70" font-size="11.23" text-anchor="end" fill="#111" textLength="23.83" lengthAdjust="spacingAndGlyphs">0.12</text>
<text x="45.20" y="288.70" font-size="11.23" text-anchor="end" fill="#111" textLength="23.83" lengthAdjust="spacingAndGlyphs">0.10</text>
<text x="45.20" y="328.70" font-size="11.23" text-anchor="end" fill="#111" textLength="23.83" lengthAdjust="spacingAndGlyphs">0.08</text>
<text x="45.20" y="368.70" font-size="11.23" text-anchor="end" fill="#111" textLength="23.83" lengthAdjust="spacingAndGlyphs">0.06</text>
<path d="M52.50 364.4 v-4.2 M52.50 204.4 v4.2 M99.00 364.4 v-4.2 M99.00 204.4 v4.2 M145.50 364.4 v-4.2 M145.50 204.4 v4.2 M192.00 364.4 v-4.2 M192.00 204.4 v4.2 M238.50 364.4 v-4.2 M238.50 204.4 v4.2 M52.5 204.40 h4.2 M238.5 204.40 h-4.2 M52.5 244.40 h4.2 M238.5 244.40 h-4.2 M52.5 284.40 h4.2 M238.5 284.40 h-4.2 M52.5 324.40 h4.2 M238.5 324.40 h-4.2 M52.5 364.40 h4.2 M238.5 364.40 h-4.2" stroke="#666" stroke-width="1" fill="none"/>
</g>
<text x="0.00" y="210.80" font-size="15.90" text-anchor="start" fill="#111">(b)</text>
<g>
<text x="113.50" y="400.70" font-size="11.45" text-anchor="start" fill="#111" textLength="6.31" lengthAdjust="spacingAndGlyphs">k</text>
<text x="119.81" y="403.60" font-size="9.66" text-anchor="start" fill="#111" textLength="28.06" lengthAdjust="spacingAndGlyphs">[1-10]</text>
<text x="151.33" y="400.70" font-size="11.45" text-anchor="start" fill="#111" textLength="26.57" lengthAdjust="spacingAndGlyphs">(1/Å)</text>
</g>
<g transform="rotate(-90 12.50 284.40)">
<text x="-8.09" y="284.40" font-size="11.45" text-anchor="start" fill="#111" textLength="6.31" lengthAdjust="spacingAndGlyphs">k</text>
<text x="-1.78" y="287.30" font-size="9.66" text-anchor="start" fill="#111" textLength="4.83" lengthAdjust="spacingAndGlyphs">z</text>
<text x="6.52" y="284.40" font-size="11.45" text-anchor="start" fill="#111" textLength="26.57" lengthAdjust="spacingAndGlyphs">(1/Å)</text>
</g>
<g id="panel-c">
<clipPath id="aclip-c"><rect x="51.9" y="411.7" width="187.2" height="161.19999999999993"/></clipPath><g clip-path="url(#aclip-c)"><path d="M45.7 405.7L52.0 409.3M55.2 405.7L61.6 409.3M64.8 405.7L70.9 409.7M74.3 405.7L80.3 409.9M83.9 405.7L89.5 410.4M93.4 405.7L98.3 411.1M102.9 405.7L107.4 411.4M112.5 405.7L116.7 411.7M122.0 405.7L125.9 411.9M131.6 405.7L135.2 412.0M141.1 405.7L144.5 412.1M150.6 405.7L153.2 410.1M160.2 405.7L160.9 406.9M169.7 405.7L167.8 398.6M179.3 405.7L178.6 398.4M188.8 405.7L189.4 398.4M198.3 405.7L200.6 398.7M207.9 405.7L211.3 399.2M217.4 405.7L221.9 399.9M227.0 405.7L232.6 401.0M236.5 405.7L242.5 401.5M45.7 413.9L52.0 417.6M55.2 413.9L61.6 417.6M64.8 413.9L70.9 417.9M74.3 413.9L80.3 418.1M83.9 413.9L89.5 418.6M93.4 413.9L98.3 419.4M102.9 413.9L107.4 419.7M112.5 413.9L116.7 419.9M122.0 413.9L125.9 420.1M131.6 413.9L135.2 420.3M141.1 413.9L144.5 420.4M150.6 413.9L153.2 418.4M160.2 413.9L160.9 415.2M169.7 413.9L167.8 406.9M179.3 413.9L178.6 406.7M188.8 413.9L189.4 406.7M198.3 413.9L200.6 407.0M207.9 413.9L211.3 407.5M217.4 413.9L221.9 408.2M227.0 413.9L232.6 409.3M236.5 413.9L242.5 409.8M45.7 422.2L52.3 425.3M55.2 422.2L61.9 425.3M64.8 422.2L71.2 425.6M74.3 422.2L80.7 425.9M83.9 422.2L90.0 426.2M93.4 422.2L99.2 426.7M102.9 422.2L108.5 426.9M112.5 422.2L118.2 426.7M122.0 422.2L127.8 426.7M131.6 422.2L137.5 426.4M141.1 422.2L147.2 426.2M150.6 422.2L153.5 425.6M160.2 422.2L160.9 423.5M169.7 422.2L168.1 416.2M179.3 422.2L178.7 416.0M188.8 422.2L189.3 416.4M198.3 422.2L200.2 416.7M207.9 422.2L210.6 417.1M217.4 422.2L221.0 417.6M227.0 422.2L231.4 418.5M236.5 422.2L241.3 418.9M45.7 430.5L52.8 432.4M55.2 430.5L62.3 432.4M64.8 430.5L71.8 432.6M74.3 430.5L81.2 433.0M83.9 430.5L90.6 433.2M93.4 430.5L100.0 433.6M102.9 430.5L109.6 433.6M112.5 430.5L119.3 433.2M122.0 430.5L129.2 432.0M131.6 430.5L138.9 430.7M141.1 430.5L148.4 431.1M150.6 430.5L155.0 432.5M160.2 430.5L162.8 433.6M169.7 430.5L170.7 432.5M179.3 430.5L179.1 424.3M188.8 430.5L189.8 424.7M198.3 430.5L200.7 425.5M207.9 430.5L211.4 426.3M217.4 430.5L221.7 427.1M227.0 430.5L232.0 427.6M236.5 430.5L241.8 428.0M45.7 438.8L52.9 439.8M55.2 438.8L62.5 439.8M64.8 438.8L72.0 439.8M74.3 438.8L81.5 440.0M83.9 438.8L91.0 440.3M93.4 438.8L100.6 440.3M102.9 438.8L110.1 440.3M112.5 438.8L119.8 438.8M122.0 438.8L129.0 436.5M131.6 438.8L137.9 435.1M141.1 438.8L147.4 435.1M150.6 438.8L155.3 438.1M160.2 438.8L163.6 440.1M169.7 438.8L171.2 441.3M179.3 438.8L179.3 439.9M188.8 438.8L190.2 433.5M198.3 438.8L201.5 434.3M207.9 438.8L212.2 435.4M217.4 438.8L222.4 436.4M227.0 438.8L232.3 437.3M236.5 438.8L241.9 437.6M45.7 447.0L53.0 447.3M55.2 447.0L62.5 447.3M64.8 447.0L72.1 447.3M74.3 447.0L81.6 447.4M83.9 447.0L91.2 447.4M93.4 447.0L100.7 447.3M102.9 447.0L110.2 446.1M112.5 447.0L118.9 443.6M122.0 447.0L127.2 441.9M131.6 447.0L136.3 441.4M141.1 447.0L146.0 441.6M150.6 447.0L154.6 443.7M160.2 447.0L164.5 446.3M169.7 447.0L172.6 447.8M179.3 447.0L179.3 448.9M188.8 447.0L188.0 447.7M198.3 447.0L201.6 444.1M207.9 447.0L212.7 444.5M217.4 447.0L222.7 445.7M227.0 447.0L232.4 446.5M236.5 447.0L242.0 446.6M45.7 455.3L53.0 455.0M55.2 455.3L62.5 455.0M64.8 455.3L72.1 455.0M74.3 455.3L81.6 455.0M83.9 455.3L91.2 454.9M93.4 455.3L100.6 454.3M102.9 455.3L109.7 452.6M112.5 455.3L117.4 449.9M122.0 455.3L125.7 449.0M131.6 455.3L135.0 448.9M141.1 455.3L145.0 449.1M150.6 455.3L153.8 450.8M160.2 455.3L163.5 451.9M169.7 455.3L172.9 454.3M179.3 455.3L180.3 455.5M188.8 455.3L187.8 455.7M198.3 455.3L196.2 455.9M207.9 455.3L213.6 454.3M217.4 455.3L223.2 454.6M227.0 455.3L232.8 454.9M236.5 455.3L242.3 455.1M45.7 463.6L52.9 462.3M55.2 463.6L62.4 462.3M64.8 463.6L72.0 462.3M74.3 463.6L81.5 462.3M83.9 463.6L91.0 462.1M93.4 463.6L100.3 461.1M102.9 463.6L108.9 459.4M112.5 463.6L116.4 457.4M122.0 463.6L124.8 456.8M131.6 463.6L134.1 456.7M141.1 463.6L144.2 457.0M150.6 463.6L153.6 458.5M160.2 463.6L163.6 459.3M169.7 463.6L173.3 460.4M179.3 463.6L181.4 462.1M188.8 463.6L188.7 462.1M198.3 463.6L195.8 463.1M207.9 463.6L204.6 463.5M217.4 463.6L224.7 463.6M227.0 463.6L233.2 463.6M236.5 463.6L242.3 463.6M45.7 471.8L52.1 469.8M55.2 471.8L61.6 469.8M64.8 471.8L71.2 469.8M74.3 471.8L80.7 469.8M83.9 471.8L90.2 469.5M93.4 471.8L99.1 468.6M102.9 471.8L107.3 467.5M112.5 471.8L115.4 466.4M122.0 471.8L123.8 465.9M131.6 471.8L133.3 465.9M141.1 471.8L143.7 466.2M150.6 471.8L153.6 466.8M160.2 471.8L163.9 467.4M169.7 471.8L173.8 468.2M179.3 471.8L182.5 468.9M188.8 471.8L190.0 469.2M198.3 471.8L196.5 469.6M207.9 471.8L204.6 470.3M217.4 471.8L214.0 470.6M227.0 471.8L232.3 473.0M236.5 471.8L241.5 472.7M45.7 480.1L50.5 476.8M55.2 480.1L60.0 476.8M64.8 480.1L70.6 477.0M74.3 480.1L80.1 477.0M83.9 480.1L89.6 476.8M93.4 480.1L98.5 476.2M102.9 480.1L106.8 475.2M112.5 480.1L115.1 474.5M122.0 480.1L123.7 474.1M131.6 480.1L133.3 474.1M141.1 480.1L143.7 474.5M150.6 480.1L154.1 475.2M160.2 480.1L164.8 476.0M169.7 480.1L174.8 476.6M179.3 480.1L184.3 477.2M188.8 480.1L192.4 476.5M198.3 480.1L198.9 476.1M207.9 480.1L205.8 476.2M217.4 480.1L214.2 477.2M227.0 480.1L225.9 479.2M236.5 480.1L238.5 481.8M45.7 488.4L47.3 483.5M55.2 488.4L56.8 483.5M64.8 488.4L67.3 483.7M74.3 488.4L78.5 484.3M83.9 488.4L88.6 484.4M93.4 488.4L98.0 484.2M102.9 488.4L106.6 483.4M112.5 488.4L115.1 482.8M122.0 488.4L123.8 482.4M131.6 488.4L133.5 482.5M141.1 488.4L144.0 482.9M150.6 488.4L155.0 484.0M160.2 488.4L165.7 485.5M169.7 488.4L175.4 485.8M179.3 488.4L184.9 485.8M188.8 488.4L193.3 484.9M198.3 488.4L200.9 483.5M207.9 488.4L207.7 483.1M217.4 488.4L215.2 483.6M227.0 488.4L223.2 485.0M236.5 488.4L238.0 490.9M45.7 496.6L43.1 493.6M55.2 496.6L52.7 493.6M64.8 496.6L62.5 491.7M74.3 496.6L73.8 491.0M83.9 496.6L85.3 491.2M93.4 496.6L96.2 491.5M102.9 496.6L105.9 491.6M112.5 496.6L115.2 491.5M122.0 496.6L124.8 491.5M131.6 496.6L134.7 491.7M141.1 496.6L145.3 492.0M150.6 496.6L156.2 493.7M160.2 496.6L165.8 493.9M169.7 496.6L175.4 493.9M179.3 496.6L184.9 493.9M188.8 496.6L194.2 493.5M198.3 496.6L203.0 492.4M207.9 496.6L211.0 491.2M217.4 496.6L216.3 490.5M227.0 496.6L222.5 492.2M236.5 496.6L230.8 494.0M45.7 504.9L41.9 502.7M55.2 504.9L51.5 502.7M64.8 504.9L59.4 501.8M74.3 504.9L69.9 500.5M83.9 504.9L81.0 499.9M93.4 504.9L92.5 499.7M102.9 504.9L104.0 499.8M112.5 504.9L114.9 499.8M122.0 504.9L125.4 500.1M131.6 504.9L136.0 500.9M141.1 504.9L146.3 501.9M150.6 504.9L156.5 502.6M160.2 504.9L166.1 502.8M169.7 504.9L175.6 502.8M179.3 504.9L185.0 502.4M188.8 504.9L194.2 501.8M198.3 504.9L203.0 500.7M207.9 504.9L210.8 499.4M217.4 504.9L216.3 498.7M227.0 504.9L222.8 500.3M236.5 504.9L231.2 501.6M45.7 513.2L41.4 512.4M55.2 513.2L50.9 512.4M64.8 513.2L58.4 511.5M74.3 513.2L68.3 511.0M83.9 513.2L78.6 510.7M93.4 513.2L89.3 510.0M102.9 513.2L101.4 509.9M112.5 513.2L113.6 509.7M122.0 513.2L126.1 510.0M131.6 513.2L136.7 510.4M141.1 513.2L146.6 511.2M150.6 513.2L156.5 510.8M160.2 513.2L166.1 511.0M169.7 513.2L175.6 511.0M179.3 513.2L184.8 510.2M188.8 513.2L193.8 509.3M198.3 513.2L202.6 508.5M207.9 513.2L210.2 507.4M217.4 513.2L215.8 507.1M227.0 513.2L222.8 508.5M236.5 513.2L231.4 509.6M45.7 521.5L41.3 521.5M55.2 521.5L50.9 521.5M64.8 521.5L57.9 521.5M74.3 521.5L67.4 521.5M83.9 521.5L77.3 521.5M93.4 521.5L87.6 521.5M102.9 521.5L99.7 521.5M112.5 521.5L112.5 520.6M122.0 521.5L125.3 519.9M131.6 521.5L137.0 519.7M141.1 521.5L146.7 519.7M150.6 521.5L156.2 518.5M160.2 521.5L165.7 518.5M169.7 521.5L175.2 518.3M179.3 521.5L184.2 517.6M188.8 521.5L193.0 516.8M198.3 521.5L200.7 515.6M207.9 521.5L207.3 515.2M217.4 521.5L214.3 516.0M227.0 521.5L222.5 517.0M236.5 521.5L231.4 517.9M45.7 529.7L41.3 529.3M55.2 529.7L50.9 529.3M64.8 529.7L57.9 528.8M74.3 529.7L67.8 530.0M83.9 529.7L77.5 530.8M93.4 529.7L88.2 531.4M102.9 529.7L99.7 531.7M112.5 529.7L112.5 531.9M122.0 529.7L124.9 530.3M131.6 529.7L136.9 528.3M141.1 529.7L146.5 527.5M150.6 529.7L155.8 526.1M160.2 529.7L165.3 526.0M169.7 529.7L174.5 525.7M179.3 529.7L183.3 524.9M188.8 529.7L191.5 524.0M198.3 529.7L198.3 523.5M207.9 529.7L205.7 523.8M217.4 529.7L213.8 524.6M227.0 529.7L222.5 525.3M236.5 529.7L231.6 525.9M45.7 538.0L43.2 536.5M55.2 538.0L52.7 536.5M64.8 538.0L58.0 536.6M74.3 538.0L67.8 538.9M83.9 538.0L78.4 540.5M93.4 538.0L89.3 541.2M102.9 538.0L100.4 542.0M112.5 538.0L112.5 542.2M122.0 538.0L124.3 541.3M131.6 538.0L136.8 537.7M141.1 538.0L146.5 536.1M150.6 538.0L155.3 533.8M160.2 538.0L164.7 533.6M169.7 538.0L173.6 533.1M179.3 538.0L181.9 532.3M188.8 538.0L189.5 531.8M198.3 538.0L197.3 531.8M207.9 538.0L205.5 532.2M217.4 538.0L214.1 532.7M227.0 538.0L222.9 533.2M236.5 538.0L231.8 533.8M45.7 546.3L43.4 543.0M55.2 546.3L52.9 543.0M64.8 546.3L58.8 542.8M74.3 546.3L67.6 548.1M83.9 546.3L79.0 550.1M93.4 546.3L90.1 551.1M102.9 546.3L101.2 551.5M112.5 546.3L112.5 551.7M122.0 546.3L124.2 550.9M131.6 546.3L135.8 547.8M141.1 546.3L146.4 544.9M150.6 546.3L155.1 541.8M160.2 546.3L164.1 541.3M169.7 546.3L172.7 540.7M179.3 546.3L181.0 540.2M188.8 546.3L189.0 540.0M198.3 546.3L197.3 540.1M207.9 546.3L205.7 540.4M217.4 546.3L214.5 540.7M227.0 546.3L223.4 541.1M236.5 546.3L232.3 541.6M45.7 554.5L45.9 548.0M55.2 554.5L55.5 548.0M64.8 554.5L65.0 548.0M74.3 554.5L73.6 558.9M83.9 554.5L82.1 559.3M93.4 554.5L92.0 559.8M102.9 554.5L102.0 560.1M112.5 554.5L112.5 560.2M122.0 554.5L123.7 559.7M131.6 554.5L135.2 558.6M141.1 554.5L146.4 554.3M150.6 554.5L155.8 550.9M160.2 554.5L163.8 549.4M169.7 554.5L172.3 548.8M179.3 554.5L180.6 548.4M188.8 554.5L189.0 548.3M198.3 554.5L197.5 548.3M207.9 554.5L205.9 548.6M217.4 554.5L214.8 548.9M227.0 554.5L223.6 549.2M236.5 554.5L232.6 549.6M45.7 562.8L48.8 557.0M55.2 562.8L58.3 557.0M64.8 562.8L70.2 559.0M74.3 562.8L81.3 563.2M83.9 562.8L87.0 567.3M93.4 562.8L94.2 568.2M102.9 562.8L103.1 568.5M112.5 562.8L112.5 568.5M122.0 562.8L123.5 568.2M131.6 562.8L134.6 567.1M141.1 562.8L145.8 564.3M150.6 562.8L156.5 560.5M160.2 562.8L163.8 557.7M169.7 562.8L172.1 557.0M179.3 562.8L180.4 556.6M188.8 562.8L189.0 556.5M198.3 562.8L197.6 556.6M207.9 562.8L206.3 556.7M217.4 562.8L215.1 557.0M227.0 562.8L223.8 557.4M236.5 562.8L232.9 557.7M45.7 571.1L50.7 566.9M55.2 571.1L60.3 566.9M64.8 571.1L71.4 568.9M74.3 571.1L81.3 571.1M83.9 571.1L87.0 572.9M93.4 571.1L94.4 576.5M102.9 571.1L103.1 576.8M112.5 571.1L112.5 576.8M122.0 571.1L123.5 576.4M131.6 571.1L134.4 575.5M141.1 571.1L145.4 573.6M150.6 571.1L156.8 569.8M160.2 571.1L164.2 566.3M169.7 571.1L172.1 565.3M179.3 571.1L180.4 564.9M188.8 571.1L189.0 564.8M198.3 571.1L197.7 564.8M207.9 571.1L206.4 565.0M217.4 571.1L215.3 565.2M227.0 571.1L224.0 565.5M236.5 571.1L233.0 565.9" fill="none" stroke="#9400d3" stroke-width="0.75" stroke-opacity="0.8"/><path d="M52.4 409.5L49.7 409.0L50.6 407.5ZM61.9 409.5L59.2 409.0L60.1 407.5ZM71.2 409.9L68.6 409.2L69.5 407.7ZM80.6 410.1L78.0 409.3L79.0 407.9ZM89.8 410.6L87.2 409.6L88.3 408.3ZM98.6 411.4L96.2 410.0L97.5 408.9ZM107.7 411.7L105.4 410.2L106.8 409.2ZM116.9 412.0L114.7 410.3L116.1 409.4ZM126.1 412.2L124.0 410.5L125.5 409.6ZM135.4 412.3L133.4 410.5L134.9 409.7ZM144.7 412.5L142.8 410.6L144.3 409.8ZM153.4 410.5L151.4 408.6L152.8 407.8ZM161.1 407.3L159.1 405.5L160.6 404.6ZM167.7 398.2L169.2 400.5L167.6 401.0ZM178.6 398.0L179.7 400.5L178.0 400.7ZM189.5 398.0L190.1 400.7L188.4 400.5ZM200.7 398.4L200.7 401.1L199.1 400.6ZM211.5 398.9L211.0 401.6L209.5 400.8ZM222.2 399.6L221.2 402.2L219.9 401.1ZM232.9 400.7L231.4 403.1L230.3 401.8ZM242.8 401.3L241.2 403.5L240.2 402.1ZM52.4 417.8L49.7 417.2L50.6 415.8ZM61.9 417.8L59.2 417.2L60.1 415.8ZM71.2 418.1L68.6 417.4L69.5 416.0ZM80.6 418.4L78.0 417.6L79.0 416.2ZM89.8 418.9L87.2 417.9L88.3 416.6ZM98.6 419.7L96.2 418.3L97.5 417.2ZM107.7 420.0L105.4 418.5L106.8 417.4ZM116.9 420.3L114.7 418.6L116.1 417.6ZM126.1 420.5L124.0 418.7L125.5 417.8ZM135.4 420.6L133.4 418.8L134.9 417.9ZM144.7 420.7L142.8 418.9L144.3 418.1ZM153.4 418.7L151.4 416.9L152.8 416.0ZM161.1 415.6L159.1 413.7L160.6 412.9ZM167.7 406.5L169.2 408.8L167.6 409.2ZM178.6 406.3L179.7 408.8L178.0 408.9ZM189.5 406.3L190.1 408.9L188.4 408.8ZM200.7 406.6L200.7 409.4L199.1 408.8ZM211.5 407.2L211.0 409.8L209.5 409.0ZM222.2 407.9L221.2 410.5L219.9 409.4ZM232.9 409.0L231.4 411.3L230.3 410.0ZM242.8 409.5L241.2 411.7L240.2 410.3ZM52.7 425.5L50.0 425.1L50.7 423.6ZM62.2 425.5L59.5 425.1L60.2 423.6ZM71.6 425.8L68.9 425.4L69.7 423.9ZM81.0 426.1L78.3 425.5L79.2 424.0ZM90.3 426.4L87.7 425.7L88.6 424.3ZM99.5 427.0L96.9 426.0L98.0 424.7ZM108.8 427.2L106.3 426.1L107.4 424.8ZM118.6 427.0L116.0 426.0L117.0 424.7ZM128.1 427.0L125.5 426.0L126.6 424.7ZM137.9 426.6L135.3 425.8L136.2 424.4ZM147.6 426.4L144.9 425.7L145.9 424.3ZM153.7 425.9L151.4 424.4L152.7 423.3ZM161.1 423.8L159.1 422.0L160.6 421.2ZM168.0 415.8L169.5 418.1L167.9 418.6ZM178.7 415.6L179.8 418.2L178.1 418.3ZM189.4 416.0L190.0 418.7L188.3 418.5ZM200.3 416.3L200.3 419.0L198.7 418.5ZM210.8 416.7L210.3 419.4L208.8 418.6ZM221.3 417.3L220.3 419.9L219.0 418.8ZM231.8 418.2L230.3 420.5L229.2 419.2ZM241.6 418.6L240.0 420.8L239.0 419.4ZM53.1 432.5L50.4 432.6L50.9 431.0ZM62.7 432.5L60.0 432.6L60.4 431.0ZM72.2 432.7L69.4 432.8L69.9 431.2ZM81.6 433.1L78.8 433.0L79.4 431.4ZM91.0 433.4L88.3 433.2L88.9 431.6ZM100.4 433.7L97.7 433.4L98.4 431.9ZM109.9 433.7L107.2 433.4L107.9 431.9ZM119.6 433.4L116.9 433.2L117.5 431.6ZM129.6 432.1L126.8 432.4L127.2 430.7ZM139.3 430.8L136.6 431.5L136.7 429.8ZM148.8 431.2L146.1 431.8L146.3 430.1ZM155.3 432.7L152.6 432.3L153.3 430.8ZM163.0 433.9L160.7 432.4L162.0 431.3ZM170.8 432.8L169.0 430.8L170.5 430.1ZM179.0 423.9L180.0 426.5L178.3 426.5ZM189.9 424.3L190.3 427.1L188.6 426.8ZM200.8 425.2L200.5 427.9L199.0 427.2ZM211.7 426.0L210.6 428.5L209.3 427.4ZM222.1 426.9L220.5 429.1L219.5 427.8ZM232.4 427.4L230.5 429.4L229.7 427.9ZM242.2 427.9L240.2 429.7L239.4 428.2ZM53.3 439.8L50.6 440.3L50.9 438.6ZM62.9 439.8L60.2 440.3L60.4 438.6ZM72.4 439.8L69.7 440.3L70.0 438.6ZM81.9 440.1L79.2 440.5L79.5 438.8ZM91.4 440.4L88.7 440.7L89.0 439.0ZM100.9 440.4L98.2 440.7L98.6 439.0ZM110.5 440.4L107.8 440.7L108.1 439.0ZM120.2 438.8L117.6 439.6L117.6 437.9ZM129.4 436.4L127.1 438.0L126.6 436.4ZM138.2 434.9L136.4 436.9L135.6 435.5ZM147.8 434.9L146.0 436.9L145.1 435.5ZM155.7 438.0L153.3 439.2L153.1 437.6ZM163.9 440.3L161.2 440.1L161.9 438.5ZM171.4 441.6L169.4 439.8L170.8 439.0ZM179.3 440.3L178.4 437.7L180.1 437.7ZM190.3 433.1L190.5 435.8L188.8 435.4ZM201.7 433.9L200.9 436.6L199.5 435.6ZM212.5 435.1L211.0 437.4L209.9 436.1ZM222.8 436.3L220.8 438.1L220.0 436.6ZM232.6 437.2L230.4 438.7L229.9 437.1ZM242.3 437.5L239.9 438.9L239.5 437.2ZM53.4 447.3L50.8 448.1L50.8 446.4ZM62.9 447.3L60.3 448.1L60.4 446.4ZM72.5 447.3L69.9 448.1L69.9 446.4ZM82.0 447.4L79.4 448.1L79.5 446.4ZM91.6 447.4L88.9 448.1L89.0 446.4ZM101.1 447.3L98.5 448.1L98.5 446.4ZM110.6 446.1L108.1 447.3L107.9 445.6ZM119.3 443.4L117.4 445.4L116.6 443.9ZM127.5 441.6L126.2 444.0L125.0 442.8ZM136.5 441.1L135.5 443.7L134.2 442.6ZM146.3 441.3L145.2 443.8L143.9 442.7ZM154.9 443.5L153.4 445.8L152.3 444.5ZM164.9 446.2L162.5 447.5L162.2 445.8ZM172.9 447.9L170.2 448.0L170.6 446.4ZM179.3 449.3L178.4 446.7L180.1 446.7ZM187.7 448.0L189.1 445.7L190.2 447.0ZM201.9 443.8L200.5 446.2L199.4 444.9ZM213.1 444.3L211.2 446.2L210.4 444.7ZM223.1 445.6L220.8 447.1L220.4 445.4ZM232.8 446.4L230.3 447.5L230.1 445.8ZM242.4 446.5L239.8 447.6L239.7 445.9ZM53.4 455.0L50.8 456.0L50.8 454.3ZM62.9 455.0L60.4 456.0L60.3 454.3ZM72.5 455.0L69.9 456.0L69.9 454.3ZM82.0 455.0L79.5 456.0L79.4 454.3ZM91.6 454.9L89.0 455.9L88.9 454.2ZM101.0 454.2L98.6 455.4L98.3 453.7ZM110.1 452.4L108.0 454.2L107.4 452.6ZM117.6 449.6L116.5 452.1L115.3 450.9ZM125.9 448.6L125.3 451.3L123.8 450.5ZM135.2 448.5L134.7 451.2L133.2 450.4ZM145.2 448.8L144.5 451.4L143.1 450.5ZM154.0 450.5L153.2 453.1L151.8 452.1ZM163.8 451.7L162.6 454.1L161.4 452.9ZM173.2 454.2L171.0 455.8L170.5 454.2ZM180.7 455.6L178.0 455.9L178.3 454.3ZM187.4 455.8L189.6 454.1L190.1 455.7ZM195.8 456.0L198.1 454.5L198.6 456.1ZM214.0 454.2L211.6 455.5L211.3 453.8ZM223.6 454.5L221.1 455.7L220.9 454.0ZM233.2 454.9L230.7 455.9L230.5 454.2ZM242.7 455.1L240.2 456.0L240.1 454.3ZM53.3 462.2L50.9 463.5L50.6 461.8ZM62.8 462.2L60.4 463.5L60.1 461.8ZM72.4 462.2L70.0 463.5L69.7 461.8ZM81.9 462.2L79.5 463.5L79.2 461.8ZM91.4 462.0L89.0 463.3L88.7 461.7ZM100.6 460.9L98.5 462.6L97.9 461.0ZM109.3 459.2L107.6 461.3L106.6 459.9ZM116.6 457.0L115.9 459.7L114.5 458.8ZM124.9 456.4L124.7 459.2L123.2 458.5ZM134.2 456.3L134.1 459.1L132.5 458.5ZM144.4 456.6L144.0 459.3L142.5 458.6ZM153.8 458.2L153.2 460.8L151.7 460.0ZM163.8 458.9L162.9 461.5L161.5 460.5ZM173.6 460.1L172.2 462.5L171.1 461.2ZM181.7 461.9L180.0 464.1L179.1 462.7ZM188.6 461.7L189.7 464.2L188.0 464.4ZM195.4 463.1L198.1 462.7L197.9 464.3ZM204.2 463.4L206.8 462.7L206.8 464.4ZM225.1 463.6L222.5 464.4L222.5 462.7ZM233.6 463.6L231.0 464.4L231.0 462.7ZM242.8 463.6L240.2 464.4L240.2 462.7ZM52.5 469.6L50.3 471.3L49.7 469.6ZM62.0 469.6L59.8 471.3L59.3 469.6ZM71.6 469.6L69.3 471.3L68.8 469.6ZM81.1 469.6L78.9 471.3L78.4 469.6ZM90.6 469.4L88.4 471.1L87.8 469.5ZM99.4 468.4L97.6 470.4L96.8 468.9ZM107.6 467.2L106.4 469.6L105.2 468.4ZM115.6 466.0L115.1 468.7L113.6 467.9ZM124.0 465.5L124.0 468.3L122.4 467.8ZM133.4 465.5L133.5 468.2L131.9 467.8ZM143.9 465.9L143.6 468.6L142.0 467.9ZM153.8 466.4L153.2 469.1L151.7 468.3ZM164.2 467.1L163.2 469.6L161.9 468.5ZM174.1 467.9L172.7 470.3L171.6 469.0ZM182.8 468.6L181.5 471.0L180.3 469.7ZM190.2 468.8L189.9 471.5L188.3 470.8ZM196.2 469.3L198.5 470.7L197.2 471.8ZM204.2 470.1L206.9 470.5L206.2 472.0ZM213.6 470.5L216.4 470.5L215.8 472.1ZM232.7 473.1L230.0 473.4L230.4 471.7ZM241.9 472.8L239.2 473.2L239.5 471.5ZM50.8 476.5L49.2 478.7L48.2 477.3ZM60.4 476.5L58.7 478.7L57.7 477.3ZM70.9 476.8L69.0 478.8L68.2 477.3ZM80.5 476.8L78.6 478.8L77.8 477.3ZM89.9 476.6L88.1 478.7L87.2 477.2ZM98.9 476.0L97.3 478.2L96.3 476.9ZM107.0 474.9L106.1 477.5L104.7 476.4ZM115.3 474.1L115.0 476.8L113.4 476.1ZM123.9 473.8L124.0 476.5L122.3 476.0ZM133.4 473.8L133.5 476.5L131.9 476.0ZM143.9 474.1L143.6 476.8L142.0 476.1ZM154.3 474.9L153.5 477.5L152.1 476.5ZM165.1 475.7L163.7 478.1L162.6 476.8ZM175.1 476.3L173.5 478.5L172.5 477.1ZM184.7 477.0L182.8 479.0L182.0 477.6ZM192.7 476.2L191.5 478.7L190.3 477.5ZM199.0 475.7L199.4 478.4L197.8 478.2ZM205.6 475.9L207.6 477.8L206.1 478.6ZM213.9 476.9L216.4 478.0L215.2 479.3ZM225.5 478.9L228.1 479.9L227.0 481.2ZM238.8 482.0L236.2 481.0L237.3 479.7ZM47.4 483.1L47.4 485.9L45.8 485.3ZM57.0 483.1L57.0 485.9L55.3 485.3ZM67.4 483.4L67.0 486.1L65.5 485.3ZM78.7 484.0L77.5 486.4L76.3 485.2ZM88.9 484.1L87.5 486.5L86.4 485.2ZM98.3 484.0L97.0 486.3L95.8 485.1ZM106.8 483.0L106.0 485.6L104.6 484.6ZM115.3 482.4L115.0 485.1L113.4 484.4ZM124.0 482.1L124.0 484.8L122.4 484.3ZM133.6 482.1L133.6 484.8L132.0 484.3ZM144.2 482.5L143.7 485.2L142.2 484.4ZM155.3 483.7L154.1 486.1L152.9 484.9ZM166.0 485.3L164.1 487.3L163.3 485.7ZM175.7 485.6L173.7 487.5L173.0 485.9ZM185.3 485.6L183.3 487.5L182.5 485.9ZM193.6 484.6L192.1 486.9L191.0 485.6ZM201.1 483.2L200.6 485.9L199.1 485.1ZM207.7 482.7L208.6 485.3L206.9 485.4ZM215.0 483.3L216.9 485.3L215.4 486.0ZM222.9 484.7L225.4 485.8L224.2 487.1ZM238.2 491.3L236.1 489.4L237.6 488.6ZM42.9 493.3L45.2 494.7L43.9 495.8ZM52.4 493.3L54.7 494.7L53.4 495.8ZM62.3 491.3L64.2 493.3L62.6 494.0ZM73.8 490.6L74.9 493.1L73.2 493.2ZM85.4 490.8L85.6 493.5L84.0 493.1ZM96.3 491.1L95.9 493.8L94.4 493.0ZM106.1 491.2L105.5 493.9L104.0 493.1ZM115.4 491.1L114.9 493.8L113.4 493.0ZM125.0 491.1L124.5 493.8L123.0 493.0ZM134.9 491.4L134.2 494.0L132.8 493.1ZM145.5 491.7L144.4 494.2L143.2 493.1ZM156.5 493.5L154.6 495.5L153.9 494.0ZM166.2 493.7L164.2 495.6L163.5 494.1ZM175.7 493.7L173.8 495.6L173.0 494.1ZM185.3 493.7L183.3 495.6L182.6 494.1ZM194.6 493.3L192.8 495.3L191.9 493.9ZM203.3 492.2L201.9 494.6L200.8 493.3ZM211.2 490.9L210.7 493.5L209.2 492.7ZM216.3 490.1L217.6 492.5L215.9 492.8ZM222.2 491.9L224.7 493.2L223.5 494.4ZM230.5 493.8L233.2 494.2L232.5 495.7ZM41.6 502.5L44.2 503.1L43.4 504.6ZM51.1 502.5L53.8 503.1L52.9 504.6ZM59.1 501.6L61.7 502.2L60.9 503.7ZM69.7 500.2L72.1 501.5L70.9 502.7ZM80.8 499.5L82.8 501.3L81.3 502.2ZM92.4 499.3L93.7 501.8L92.0 502.1ZM104.1 499.4L104.4 502.1L102.8 501.8ZM115.1 499.4L114.7 502.1L113.2 501.4ZM125.6 499.8L124.8 502.4L123.4 501.5ZM136.3 500.6L135.0 503.0L133.8 501.8ZM146.6 501.7L144.8 503.8L144.0 502.3ZM156.8 502.4L154.7 504.2L154.1 502.6ZM166.5 502.6L164.3 504.3L163.7 502.7ZM176.0 502.6L173.9 504.3L173.3 502.7ZM185.4 502.2L183.3 504.0L182.6 502.5ZM194.6 501.6L192.8 503.6L191.9 502.1ZM203.3 500.5L201.9 502.8L200.8 501.6ZM211.0 499.0L210.6 501.7L209.1 500.9ZM216.3 498.3L217.6 500.8L215.9 501.1ZM222.5 500.0L224.9 501.3L223.6 502.5ZM230.8 501.4L233.5 502.0L232.6 503.5ZM41.0 512.4L43.7 512.0L43.4 513.6ZM50.5 512.4L53.3 512.0L53.0 513.6ZM58.1 511.4L60.8 511.2L60.3 512.9ZM67.9 510.9L70.7 510.9L70.1 512.5ZM78.2 510.6L80.9 510.9L80.2 512.4ZM89.0 509.7L91.5 510.6L90.5 512.0ZM101.2 509.5L103.1 511.5L101.6 512.2ZM113.7 509.3L113.7 512.1L112.1 511.5ZM126.4 509.8L124.8 512.1L123.8 510.7ZM137.1 510.3L135.2 512.2L134.4 510.7ZM147.0 511.1L144.8 512.7L144.2 511.1ZM156.8 510.7L154.7 512.5L154.1 510.9ZM166.5 510.9L164.3 512.6L163.7 511.0ZM176.0 510.9L173.9 512.6L173.3 511.0ZM185.2 510.1L183.3 512.0L182.5 510.5ZM194.1 509.1L192.5 511.3L191.5 510.0ZM202.8 508.2L201.7 510.7L200.4 509.6ZM210.4 507.0L210.2 509.7L208.6 509.1ZM215.7 506.7L217.2 509.0L215.6 509.5ZM222.5 508.2L224.9 509.6L223.6 510.7ZM231.0 509.4L233.7 510.2L232.7 511.5ZM40.9 521.5L43.5 520.6L43.5 522.3ZM50.5 521.5L53.1 520.6L53.1 522.3ZM57.5 521.5L60.1 520.6L60.1 522.3ZM67.0 521.5L69.6 520.6L69.6 522.3ZM76.9 521.5L79.5 520.6L79.5 522.3ZM87.2 521.5L89.8 520.6L89.8 522.3ZM99.3 521.5L101.9 520.6L101.9 522.3ZM112.5 520.2L113.3 522.8L111.6 522.8ZM125.7 519.7L123.7 521.6L123.0 520.1ZM137.4 519.6L135.2 521.2L134.6 519.6ZM147.0 519.5L144.8 521.1L144.3 519.5ZM156.5 518.3L154.6 520.3L153.9 518.8ZM166.1 518.3L164.2 520.3L163.4 518.8ZM175.5 518.1L173.7 520.2L172.8 518.7ZM184.5 517.3L183.0 519.6L182.0 518.3ZM193.3 516.5L192.2 519.0L190.9 517.9ZM200.9 515.3L200.7 518.0L199.1 517.4ZM207.3 514.8L208.4 517.3L206.7 517.5ZM214.1 515.7L216.1 517.5L214.7 518.4ZM222.2 516.7L224.7 518.0L223.5 519.2ZM231.0 517.6L233.7 518.4L232.7 519.8ZM40.9 529.3L43.6 528.7L43.5 530.4ZM50.5 529.3L53.2 528.7L53.0 530.4ZM57.5 528.7L60.2 528.2L60.0 529.9ZM67.4 530.0L69.9 529.0L70.0 530.7ZM77.1 530.9L79.6 529.6L79.9 531.3ZM87.8 531.5L90.0 529.9L90.6 531.6ZM99.4 532.0L101.1 529.9L102.0 531.3ZM112.5 532.3L111.6 529.7L113.3 529.7ZM125.3 530.4L122.6 530.7L122.9 529.0ZM137.2 528.2L135.0 529.7L134.5 528.1ZM146.9 527.4L144.8 529.2L144.2 527.6ZM156.1 525.9L154.5 528.1L153.5 526.7ZM165.6 525.8L164.0 528.0L163.0 526.6ZM174.8 525.4L173.4 527.8L172.3 526.5ZM183.6 524.6L182.5 527.2L181.2 526.1ZM191.6 523.7L191.3 526.4L189.8 525.7ZM198.3 523.1L199.2 525.7L197.5 525.7ZM205.6 523.5L207.3 525.6L205.7 526.2ZM213.6 524.3L215.8 525.9L214.4 526.9ZM222.2 525.0L224.7 526.2L223.5 527.4ZM231.2 525.6L233.8 526.5L232.8 527.9ZM42.8 536.3L45.5 536.9L44.7 538.4ZM52.4 536.3L55.1 536.9L54.2 538.4ZM57.6 536.5L60.3 536.2L60.0 537.8ZM67.4 539.0L69.9 537.8L70.1 539.4ZM78.1 540.7L80.1 538.8L80.8 540.4ZM89.0 541.5L90.5 539.2L91.5 540.6ZM100.2 542.4L100.9 539.7L102.3 540.6ZM112.5 542.6L111.6 540.0L113.3 540.0ZM124.6 541.6L122.4 540.0L123.8 539.0ZM137.2 537.7L134.7 538.7L134.6 537.0ZM146.8 535.9L144.7 537.6L144.1 536.0ZM155.6 533.5L154.2 535.9L153.1 534.6ZM165.0 533.4L163.7 535.8L162.5 534.6ZM173.8 532.7L172.9 535.3L171.6 534.3ZM182.1 531.9L181.8 534.7L180.2 533.9ZM189.5 531.4L190.1 534.0L188.4 533.9ZM197.2 531.4L198.5 533.8L196.8 534.1ZM205.4 531.8L207.2 533.9L205.6 534.5ZM213.9 532.3L216.0 534.1L214.5 535.0ZM222.7 532.9L225.0 534.3L223.7 535.4ZM231.5 533.5L234.0 534.6L232.9 535.9ZM43.2 542.7L45.4 544.3L44.0 545.3ZM52.7 542.7L54.9 544.3L53.5 545.3ZM58.4 542.6L61.1 543.2L60.3 544.6ZM67.2 548.2L69.5 546.7L70.0 548.3ZM78.7 550.3L80.2 548.1L81.2 549.4ZM89.8 551.4L90.6 548.8L92.0 549.7ZM101.1 551.9L101.1 549.2L102.7 549.7ZM112.5 552.1L111.6 549.5L113.3 549.5ZM124.4 551.3L122.5 549.3L124.0 548.5ZM136.2 548.0L133.5 547.9L134.0 546.3ZM146.8 544.7L144.5 546.2L144.1 544.6ZM155.4 541.5L154.1 544.0L152.9 542.8ZM164.3 541.0L163.4 543.6L162.0 542.5ZM172.9 540.4L172.4 543.1L170.9 542.3ZM181.1 539.9L181.2 542.6L179.6 542.1ZM189.0 539.6L189.8 542.2L188.1 542.2ZM197.2 539.7L198.5 542.1L196.8 542.4ZM205.6 540.0L207.3 542.1L205.7 542.7ZM214.3 540.4L216.3 542.3L214.8 543.1ZM223.1 540.8L225.3 542.4L223.9 543.4ZM232.0 541.3L234.4 542.7L233.1 543.8ZM46.0 547.6L46.7 550.2L45.0 550.1ZM55.5 547.6L56.3 550.2L54.6 550.1ZM65.0 547.6L65.8 550.2L64.1 550.1ZM73.5 559.2L73.1 556.5L74.8 556.8ZM82.0 559.7L82.1 557.0L83.7 557.6ZM91.9 560.2L91.7 557.5L93.4 557.9ZM101.9 560.5L101.5 557.8L103.2 558.1ZM112.5 560.6L111.6 558.0L113.3 558.0ZM123.8 560.1L122.2 557.9L123.9 557.4ZM135.5 558.9L133.1 557.5L134.4 556.4ZM146.8 554.2L144.2 555.2L144.1 553.5ZM156.1 550.7L154.5 552.9L153.5 551.5ZM164.0 549.1L163.2 551.7L161.8 550.7ZM172.4 548.4L172.2 551.2L170.6 550.5ZM180.7 548.0L180.9 550.7L179.3 550.4ZM189.0 547.9L189.8 550.5L188.1 550.4ZM197.4 547.9L198.6 550.4L196.9 550.6ZM205.8 548.2L207.4 550.4L205.8 550.9ZM214.6 548.5L216.5 550.5L214.9 551.2ZM223.4 548.9L225.5 550.6L224.1 551.5ZM232.4 549.3L234.7 550.8L233.3 551.8ZM49.0 556.7L48.5 559.4L47.0 558.6ZM58.5 556.7L58.1 559.4L56.6 558.6ZM70.5 558.8L68.9 561.0L67.9 559.6ZM81.7 563.2L79.0 563.9L79.1 562.2ZM87.2 567.6L85.1 566.0L86.4 565.0ZM94.2 568.6L93.0 566.2L94.7 565.9ZM103.2 568.9L102.2 566.3L103.9 566.3ZM112.5 568.9L111.6 566.3L113.3 566.3ZM123.6 568.6L122.1 566.3L123.7 565.8ZM134.8 567.4L132.6 565.8L134.0 564.8ZM146.2 564.5L143.5 564.5L144.0 562.9ZM156.8 560.3L154.7 562.1L154.1 560.5ZM164.0 557.3L163.2 560.0L161.8 559.0ZM172.2 556.6L172.0 559.3L170.5 558.7ZM180.4 556.2L180.8 558.9L179.1 558.6ZM189.0 556.1L189.8 558.8L188.1 558.7ZM197.5 556.2L198.7 558.7L197.0 558.9ZM206.2 556.4L207.7 558.7L206.0 559.1ZM214.9 556.6L216.7 558.7L215.1 559.3ZM223.6 557.0L225.7 558.9L224.2 559.7ZM232.7 557.3L234.9 559.0L233.5 560.0ZM51.0 566.6L49.6 568.9L48.5 567.6ZM60.6 566.6L59.1 568.9L58.1 567.6ZM71.8 568.8L69.6 570.4L69.0 568.8ZM81.7 571.1L79.1 571.9L79.1 570.2ZM87.4 573.1L84.7 572.5L85.6 571.1ZM94.4 576.9L93.1 574.5L94.8 574.2ZM103.2 577.2L102.2 574.6L103.9 574.5ZM112.5 577.2L111.6 574.6L113.3 574.6ZM123.6 576.8L122.1 574.5L123.7 574.1ZM134.6 575.9L132.5 574.1L133.9 573.2ZM145.8 573.8L143.1 573.2L143.9 571.7ZM157.2 569.7L154.8 571.1L154.5 569.4ZM164.5 566.0L163.5 568.5L162.2 567.4ZM172.2 564.9L172.0 567.6L170.5 567.0ZM180.4 564.5L180.8 567.2L179.1 566.9ZM189.0 564.4L189.8 567.0L188.1 567.0ZM197.7 564.4L198.8 566.9L197.1 567.1ZM206.3 564.6L207.7 566.9L206.1 567.3ZM215.1 564.8L216.8 567.0L215.2 567.5ZM223.8 565.2L225.8 567.1L224.3 567.9ZM232.8 565.5L234.9 567.2L233.5 568.2Z" fill="#9400d3" stroke="none"/></g>
<path d="M52.5 411.90V572.40H238.5V411.90" fill="none" stroke="#666" stroke-width="1"/>
<path d="M52.0 411.90H239.0" fill="none" stroke="#8c8c8c" stroke-width="1"/>
<text x="52.50" y="589.60" font-size="11.23" text-anchor="middle" fill="#111" textLength="23.83" lengthAdjust="spacingAndGlyphs">0.06</text>
<text x="99.00" y="589.60" font-size="11.23" text-anchor="middle" fill="#111" textLength="23.83" lengthAdjust="spacingAndGlyphs">0.08</text>
<text x="145.50" y="589.60" font-size="11.23" text-anchor="middle" fill="#111" textLength="23.83" lengthAdjust="spacingAndGlyphs">0.10</text>
<text x="192.00" y="589.60" font-size="11.23" text-anchor="middle" fill="#111" textLength="23.83" lengthAdjust="spacingAndGlyphs">0.12</text>
<text x="238.50" y="589.60" font-size="11.23" text-anchor="middle" fill="#111" textLength="23.83" lengthAdjust="spacingAndGlyphs">0.14</text>
<text x="45.20" y="416.60" font-size="11.23" text-anchor="end" fill="#111" textLength="23.83" lengthAdjust="spacingAndGlyphs">0.14</text>
<text x="45.20" y="456.60" font-size="11.23" text-anchor="end" fill="#111" textLength="23.83" lengthAdjust="spacingAndGlyphs">0.12</text>
<text x="45.20" y="496.60" font-size="11.23" text-anchor="end" fill="#111" textLength="23.83" lengthAdjust="spacingAndGlyphs">0.10</text>
<text x="45.20" y="536.60" font-size="11.23" text-anchor="end" fill="#111" textLength="23.83" lengthAdjust="spacingAndGlyphs">0.08</text>
<text x="45.20" y="576.60" font-size="11.23" text-anchor="end" fill="#111" textLength="23.83" lengthAdjust="spacingAndGlyphs">0.06</text>
<path d="M52.50 572.3 v-4.2 M52.50 412.3 v4.2 M99.00 572.3 v-4.2 M99.00 412.3 v4.2 M145.50 572.3 v-4.2 M145.50 412.3 v4.2 M192.00 572.3 v-4.2 M192.00 412.3 v4.2 M238.50 572.3 v-4.2 M238.50 412.3 v4.2 M52.5 412.30 h4.2 M238.5 412.30 h-4.2 M52.5 452.30 h4.2 M238.5 452.30 h-4.2 M52.5 492.30 h4.2 M238.5 492.30 h-4.2 M52.5 532.30 h4.2 M238.5 532.30 h-4.2 M52.5 572.30 h4.2 M238.5 572.30 h-4.2" stroke="#666" stroke-width="1" fill="none"/>
</g>
<text x="0.00" y="418.70" font-size="15.90" text-anchor="start" fill="#111">(c)</text>
<g>
<text x="124.80" y="608.70" font-size="11.45" text-anchor="start" fill="#111" textLength="6.31" lengthAdjust="spacingAndGlyphs">k</text>
<text x="131.12" y="611.60" font-size="9.66" text-anchor="start" fill="#111" textLength="5.44" lengthAdjust="spacingAndGlyphs">x</text>
<text x="140.03" y="608.70" font-size="11.45" text-anchor="start" fill="#111" textLength="26.57" lengthAdjust="spacingAndGlyphs">(1/Å)</text>
</g>
<g transform="rotate(-90 12.50 492.30)">
<text x="-8.40" y="492.30" font-size="11.45" text-anchor="start" fill="#111" textLength="6.31" lengthAdjust="spacingAndGlyphs">k</text>
<text x="-2.08" y="495.20" font-size="9.66" text-anchor="start" fill="#111" textLength="5.44" lengthAdjust="spacingAndGlyphs">y</text>
<text x="6.83" y="492.30" font-size="11.45" text-anchor="start" fill="#111" textLength="26.57" lengthAdjust="spacingAndGlyphs">(1/Å)</text>
</g>
<g id="panel-d">
<rect x="293.1" y="200.3" width="170.60" height="169.90" fill="#1e48fb"/>
<defs>
<filter id="hb1-d" x="-30%" y="-30%" width="160%" height="160%"><feGaussianBlur stdDeviation="0.5"/></filter>
<filter id="hb2-d" x="-30%" y="-30%" width="160%" height="160%"><feGaussianBlur stdDeviation="1.0"/></filter>
<filter id="hb3-d" x="-30%" y="-30%" width="160%" height="160%"><feGaussianBlur stdDeviation="2.2"/></filter>
<filter id="hb4-d" x="-50%" y="-50%" width="200%" height="200%"><feGaussianBlur stdDeviation="5"/></filter>
<linearGradient id="lobestroke-d" gradientUnits="userSpaceOnUse" x1="0" y1="-31" x2="0" y2="-90">
<stop offset="0" stop-color="#ff3434"/><stop offset="0.08" stop-color="#ff4242"/><stop offset="0.17" stop-color="#ff8c8c"/><stop offset="0.27" stop-color="#ffbcbc"/><stop offset="0.5" stop-color="#ffcccc"/><stop offset="1" stop-color="#ffd4d4"/></linearGradient>
<clipPath id="lobeclip-d"><path d="M-16.9,-33.2 C-17.8,-48 -13.8,-68 -8.0,-85 C-5.2,-93 -2,-100 0,-101 C2,-100 5.2,-93 8.0,-85 C13.8,-68 17.8,-48 16.9,-33.2 C16.9,-30.2 15,-30.6 11,-31.8 Q0,-34.4 -11,-31.8 C-15,-30.6 -16.9,-30.2 -16.9,-33.2 Z"/></clipPath>
<linearGradient id="cupblue-d" gradientUnits="userSpaceOnUse" x1="0" y1="-33" x2="0" y2="-45.5">
<stop offset="0" stop-color="#7c99ff"/><stop offset="0.3" stop-color="#7192ff"/><stop offset="0.65" stop-color="#a9bcff"/><stop offset="1" stop-color="#ffffff" stop-opacity="0"/></linearGradient>
<g id="lobe-d">
 <path d="M-16.9,-33.2 C-17.8,-48 -13.8,-68 -8.0,-85 C-5.2,-93 -2,-100 0,-101 C2,-100 5.2,-93 8.0,-85 C13.8,-68 17.8,-48 16.9,-33.2 C16.9,-30.2 15,-30.6 11,-31.8 Q0,-34.4 -11,-31.8 C-15,-30.6 -16.9,-30.2 -16.9,-33.2 Z" fill="#ffffff" stroke="#ffffff" stroke-width="14" stroke-opacity="0.3" fill-opacity="0.3" filter="url(#hb4-d)"/>
 <path d="M-16.9,-33.2 C-17.8,-48 -13.8,-68 -8.0,-85 C-5.2,-93 -2,-100 0,-101 C2,-100 5.2,-93 8.0,-85 C13.8,-68 17.8,-48 16.9,-33.2 C16.9,-30.2 15,-30.6 11,-31.8 Q0,-34.4 -11,-31.8 C-15,-30.6 -16.9,-30.2 -16.9,-33.2 Z" fill="#ffffff" stroke="#ffffff" stroke-width="5" filter="url(#hb3-d)"/>
 <path d="M-16.9,-33.2 C-17.8,-48 -13.8,-68 -8.0,-85 C-5.2,-93 -2,-100 0,-101 C2,-100 5.2,-93 8.0,-85 C13.8,-68 17.8,-48 16.9,-33.2 C16.9,-30.2 15,-30.6 11,-31.8 Q0,-34.4 -11,-31.8 C-15,-30.6 -16.9,-30.2 -16.9,-33.2 Z" fill="#ffffff" stroke="#fff" stroke-width="1.5"/>
 <g clip-path="url(#lobeclip-d)">
 <path d="M-16.9,-33.2 C-17.8,-48 -13.8,-68 -8.0,-85 C-5.2,-93 -2,-100 0,-101 C2,-100 5.2,-93 8.0,-85 C13.8,-68 17.8,-48 16.9,-33.2 C16.9,-30.2 15,-30.6 11,-31.8 Q0,-34.4 -11,-31.8 C-15,-30.6 -16.9,-30.2 -16.9,-33.2 Z" fill="none" stroke="#ffc2c2" stroke-width="5.0" filter="url(#hb2-d)"/>
 <path d="M-9,-50 C-9.5,-60 -8,-72 -4.5,-85 C-3,-92 -1,-96 0,-97 C1,-96 3,-92 4.5,-85 C8,-72 9.5,-60 9,-50 Z" fill="#f4f6ff" filter="url(#hb3-d)"/>
 <path d="M-16.2,-32.6 L-16.4,-38.5 Q-9,-44.6 0,-45.2 Q9,-44.6 16.4,-38.5 L16.2,-32.6 Q0,-35.6 -16.2,-32.6 Z" fill="url(#cupblue-d)" filter="url(#hb2-d)"/>
 <path d="M-13.3,-43.6 L0,-55.6 L13.3,-43.6" fill="none" stroke="#ffd2d2" stroke-width="4.6" stroke-linejoin="round" stroke-linecap="round" filter="url(#hb2-d)"/>
 <path d="M-7.4,-83.4 L0,-78.6 L7.4,-83.4" fill="none" stroke="#ffcccc" stroke-width="2.8" stroke-linejoin="round" filter="url(#hb2-d)"/>
 </g>
 <path d="M-16.9,-33.2 C-17.8,-48 -13.8,-68 -8.0,-85 C-5.2,-93 -2,-100 0,-101 C2,-100 5.2,-93 8.0,-85 C13.8,-68 17.8,-48 16.9,-33.2 C16.9,-30.2 15,-30.6 11,-31.8 Q0,-34.4 -11,-31.8 C-15,-30.6 -16.9,-30.2 -16.9,-33.2 Z" fill="none" stroke="url(#lobestroke-d)" stroke-width="1.3" filter="url(#hb1-d)"/>
</g>
</defs>
<clipPath id="hclip-d"><rect x="293.1" y="200.3" width="170.60" height="169.90"/></clipPath>
<g clip-path="url(#hclip-d)"><g transform="translate(378.3,285.3)">
<circle r="38" fill="#ffffff" fill-opacity="0.45" filter="url(#hb4-d)"/><circle r="28" fill="#ffffff" filter="url(#hb4-d)"/>
<circle r="28.5" fill="#ffffff" filter="url(#hb3-d)"/>
<use href="#lobe-d" transform="rotate(0)"/>
<use href="#lobe-d" transform="rotate(90)"/>
<use href="#lobe-d" transform="rotate(180)"/>
<use href="#lobe-d" transform="rotate(270)"/>
<circle r="24.8" fill="#ff8787" filter="url(#hb2-d)"/>
<circle r="24.0" fill="none" stroke="#ffb4b4" stroke-width="1.2" filter="url(#hb1-d)"/>
<path d="M31.97,1.40 L31.64,2.49 L31.17,3.55 L30.64,4.58 L30.08,5.57 L29.49,6.54 L28.88,7.47 L28.26,8.37 L27.63,9.25 L27.00,10.09 L26.35,10.92 L25.71,11.72 L25.06,12.50 L24.41,13.25 L23.76,14.00 L23.11,14.72 L22.45,15.43 L21.79,16.12 L21.12,16.80 L20.46,17.47 L19.79,18.13 L19.11,18.78 L18.43,19.42 L17.74,20.05 L17.04,20.67 L16.34,21.29 L15.62,21.90 L14.90,22.51 L14.16,23.11 L13.41,23.71 L12.65,24.30 L11.87,24.89 L11.08,25.47 L10.26,26.06 L9.43,26.63 L8.58,27.21 L7.70,27.77 L6.80,28.33 L5.88,28.88 L4.92,29.42 L3.94,29.95 L2.93,30.45 L1.89,30.93 L0.82,31.36 L-0.28,31.73 L-1.40,31.97 L-2.49,31.64 L-3.55,31.17 L-4.58,30.64 L-5.57,30.08 L-6.54,29.49 L-7.47,28.88 L-8.37,28.26 L-9.25,27.63 L-10.09,27.00 L-10.92,26.35 L-11.72,25.71 L-12.50,25.06 L-13.25,24.41 L-14.00,23.76 L-14.72,23.11 L-15.43,22.45 L-16.12,21.79 L-16.80,21.12 L-17.47,20.46 L-18.13,19.79 L-18.78,19.11 L-19.42,18.43 L-20.05,17.74 L-20.67,17.04 L-21.29,16.34 L-21.90,15.62 L-22.51,14.90 L-23.11,14.16 L-23.71,13.41 L-24.30,12.65 L-24.89,11.87 L-25.47,11.08 L-26.06,10.26 L-26.63,9.43 L-27.21,8.58 L-27.77,7.70 L-28.33,6.80 L-28.88,5.88 L-29.42,4.92 L-29.95,3.94 L-30.45,2.93 L-30.93,1.89 L-31.36,0.82 L-31.73,-0.28 L-31.97,-1.40 L-31.64,-2.49 L-31.17,-3.55 L-30.64,-4.58 L-30.08,-5.57 L-29.49,-6.54 L-28.88,-7.47 L-28.26,-8.37 L-27.63,-9.25 L-27.00,-10.09 L-26.35,-10.92 L-25.71,-11.72 L-25.06,-12.50 L-24.41,-13.25 L-23.76,-14.00 L-23.11,-14.72 L-22.45,-15.43 L-21.79,-16.12 L-21.12,-16.80 L-20.46,-17.47 L-19.79,-18.13 L-19.11,-18.78 L-18.43,-19.42 L-17.74,-20.05 L-17.04,-20.67 L-16.34,-21.29 L-15.62,-21.90 L-14.90,-22.51 L-14.16,-23.11 L-13.41,-23.71 L-12.65,-24.30 L-11.87,-24.89 L-11.08,-25.47 L-10.26,-26.06 L-9.43,-26.63 L-8.58,-27.21 L-7.70,-27.77 L-6.80,-28.33 L-5.88,-28.88 L-4.92,-29.42 L-3.94,-29.95 L-2.93,-30.45 L-1.89,-30.93 L-0.82,-31.36 L0.28,-31.73 L1.40,-31.97 L2.49,-31.64 L3.55,-31.17 L4.58,-30.64 L5.57,-30.08 L6.54,-29.49 L7.47,-28.88 L8.37,-28.26 L9.25,-27.63 L10.09,-27.00 L10.92,-26.35 L11.72,-25.71 L12.50,-25.06 L13.25,-24.41 L14.00,-23.76 L14.72,-23.11 L15.43,-22.45 L16.12,-21.79 L16.80,-21.12 L17.47,-20.46 L18.13,-19.79 L18.78,-19.11 L19.42,-18.43 L20.05,-17.74 L20.67,-17.04 L21.29,-16.34 L21.90,-15.62 L22.51,-14.90 L23.11,-14.16 L23.71,-13.41 L24.30,-12.65 L24.89,-11.87 L25.47,-11.08 L26.06,-10.26 L26.63,-9.43 L27.21,-8.58 L27.77,-7.70 L28.33,-6.80 L28.88,-5.88 L29.42,-4.92 L29.95,-3.94 L30.45,-2.93 L30.93,-1.89 L31.36,-0.82 L31.73,0.28Z" fill="none" stroke="#ff4242" stroke-width="1.45" stroke-linejoin="round" filter="url(#hb1-d)"/>
<path d="M25.88,-4.10 L26.02,-3.19 L26.16,-2.29 L26.29,-1.38 L26.40,-0.46 L26.51,0.46 L26.60,1.39 L26.67,2.33 L26.72,3.28 L26.74,4.24 L26.74,5.20 L26.70,6.16 L26.63,7.14 L26.53,8.11 L26.39,9.09 L26.23,10.07 L26.06,11.06 L25.89,12.07 L25.76,13.12 L25.64,14.21 L25.50,15.32 L25.27,16.41 L24.86,17.41 L24.24,18.27 L23.41,18.96 L22.45,19.52 L21.44,19.99 L20.44,20.44 L19.49,20.90 L18.57,21.36 L17.68,21.83 L16.80,22.29 L15.91,22.72 L15.02,23.12 L14.11,23.49 L13.20,23.82 L12.29,24.12 L11.38,24.40 L10.46,24.64 L9.55,24.87 L8.63,25.07 L7.72,25.25 L6.81,25.43 L5.91,25.58 L5.00,25.73 L4.10,25.88 L3.19,26.02 L2.29,26.16 L1.38,26.29 L0.46,26.40 L-0.46,26.51 L-1.39,26.60 L-2.33,26.67 L-3.28,26.72 L-4.24,26.74 L-5.20,26.74 L-6.16,26.70 L-7.14,26.63 L-8.11,26.53 L-9.09,26.39 L-10.07,26.23 L-11.06,26.06 L-12.07,25.89 L-13.12,25.76 L-14.21,25.64 L-15.32,25.50 L-16.41,25.27 L-17.41,24.86 L-18.27,24.24 L-18.96,23.41 L-19.52,22.45 L-19.99,21.44 L-20.44,20.44 L-20.90,19.49 L-21.36,18.57 L-21.83,17.68 L-22.29,16.80 L-22.72,15.91 L-23.12,15.02 L-23.49,14.11 L-23.82,13.20 L-24.12,12.29 L-24.40,11.38 L-24.64,10.46 L-24.87,9.55 L-25.07,8.63 L-25.25,7.72 L-25.43,6.81 L-25.58,5.91 L-25.73,5.00 L-25.88,4.10 L-26.02,3.19 L-26.16,2.29 L-26.29,1.38 L-26.40,0.46 L-26.51,-0.46 L-26.60,-1.39 L-26.67,-2.33 L-26.72,-3.28 L-26.74,-4.24 L-26.74,-5.20 L-26.70,-6.16 L-26.63,-7.14 L-26.53,-8.11 L-26.39,-9.09 L-26.23,-10.07 L-26.06,-11.06 L-25.89,-12.07 L-25.76,-13.12 L-25.64,-14.21 L-25.50,-15.32 L-25.27,-16.41 L-24.86,-17.41 L-24.24,-18.27 L-23.41,-18.96 L-22.45,-19.52 L-21.44,-19.99 L-20.44,-20.44 L-19.49,-20.90 L-18.57,-21.36 L-17.68,-21.83 L-16.80,-22.29 L-15.91,-22.72 L-15.02,-23.12 L-14.11,-23.49 L-13.20,-23.82 L-12.29,-24.12 L-11.38,-24.40 L-10.46,-24.64 L-9.55,-24.87 L-8.63,-25.07 L-7.72,-25.25 L-6.81,-25.43 L-5.91,-25.58 L-5.00,-25.73 L-4.10,-25.88 L-3.19,-26.02 L-2.29,-26.16 L-1.38,-26.29 L-0.46,-26.40 L0.46,-26.51 L1.39,-26.60 L2.33,-26.67 L3.28,-26.72 L4.24,-26.74 L5.20,-26.74 L6.16,-26.70 L7.14,-26.63 L8.11,-26.53 L9.09,-26.39 L10.07,-26.23 L11.06,-26.06 L12.07,-25.89 L13.12,-25.76 L14.21,-25.64 L15.32,-25.50 L16.41,-25.27 L17.41,-24.86 L18.27,-24.24 L18.96,-23.41 L19.52,-22.45 L19.99,-21.44 L20.44,-20.44 L20.90,-19.49 L21.36,-18.57 L21.83,-17.68 L22.29,-16.80 L22.72,-15.91 L23.12,-15.02 L23.49,-14.11 L23.82,-13.20 L24.12,-12.29 L24.40,-11.38 L24.64,-10.46 L24.87,-9.55 L25.07,-8.63 L25.25,-7.72 L25.43,-6.81 L25.58,-5.91 L25.73,-5.00Z" fill="none" stroke="#ff4a4a" stroke-width="1.45" stroke-linejoin="round" filter="url(#hb1-d)"/>
<rect x="-16.6" y="-16.6" width="33.2" height="33.2" rx="6" fill="#ff6666" stroke="#ff5a5a" stroke-width="1" filter="url(#hb1-d)"/>
<rect x="-13.5" y="-13.5" width="27" height="27" rx="5.5" fill="#ff6262" filter="url(#hb2-d)"/>
<circle r="8.4" fill="#ff8484" stroke="#ff4c4c" stroke-width="1.5" filter="url(#hb1-d)"/>
</g></g>
<rect x="293.1" y="200.3" width="170.60" height="169.90" fill="none" stroke="#000" stroke-width="1.1"/>
<text x="308.50" y="382.50" font-size="12.08" text-anchor="middle" fill="#111" textLength="22.44" lengthAdjust="spacingAndGlyphs">-0.4</text>
<text x="290.60" y="359.05" font-size="12.08" text-anchor="end" fill="#111" textLength="22.44" lengthAdjust="spacingAndGlyphs">-0.4</text>
<text x="343.20" y="382.50" font-size="12.08" text-anchor="middle" fill="#111" textLength="22.44" lengthAdjust="spacingAndGlyphs">-0.2</text>
<text x="290.60" y="324.35" font-size="12.08" text-anchor="end" fill="#111" textLength="22.44" lengthAdjust="spacingAndGlyphs">-0.2</text>
<text x="377.90" y="382.50" font-size="12.08" text-anchor="middle" fill="#111" textLength="18.29" lengthAdjust="spacingAndGlyphs">0.0</text>
<text x="290.60" y="289.65" font-size="12.08" text-anchor="end" fill="#111" textLength="18.29" lengthAdjust="spacingAndGlyphs">0.0</text>
<text x="412.60" y="382.50" font-size="12.08" text-anchor="middle" fill="#111" textLength="18.29" lengthAdjust="spacingAndGlyphs">0.2</text>
<text x="290.60" y="254.95" font-size="12.08" text-anchor="end" fill="#111" textLength="18.29" lengthAdjust="spacingAndGlyphs">0.2</text>
<text x="447.30" y="382.50" font-size="12.08" text-anchor="middle" fill="#111" textLength="18.29" lengthAdjust="spacingAndGlyphs">0.4</text>
<text x="290.60" y="220.25" font-size="12.08" text-anchor="end" fill="#111" textLength="18.29" lengthAdjust="spacingAndGlyphs">0.4</text>
<path d="M309.00 370.20 v-4 M309.00 200.30 v4 M293.1 354.65 h4 M463.7 354.65 h-4 M343.70 370.20 v-4 M343.70 200.30 v4 M293.1 319.95 h4 M463.7 319.95 h-4 M378.40 370.20 v-4 M378.40 200.30 v4 M293.1 285.25 h4 M463.7 285.25 h-4 M413.10 370.20 v-4 M413.10 200.30 v4 M293.1 250.55 h4 M463.7 250.55 h-4 M447.80 370.20 v-4 M447.80 200.30 v4 M293.1 215.85 h4 M463.7 215.85 h-4" stroke="#000" stroke-width="1" fill="none"/>
<text x="299.30" y="219.10" font-size="14.00" text-anchor="start" fill="#fbbf10">+0.014</text>
<text x="438.30" y="219.10" font-size="14.00" text-anchor="middle" fill="#fbbf10">top</text>
<text x="248.10" y="210.90" font-size="15.90" text-anchor="start" fill="#111">(d)</text>
<g>
<text x="355.96" y="396.50" font-size="12.29" text-anchor="start" fill="#111" textLength="6.78" lengthAdjust="spacingAndGlyphs">k</text>
<text x="362.74" y="399.30" font-size="10.40" text-anchor="start" fill="#111" textLength="5.86" lengthAdjust="spacingAndGlyphs">x</text>
<text x="372.32" y="396.50" font-size="12.29" text-anchor="start" fill="#111" textLength="28.52" lengthAdjust="spacingAndGlyphs">(1/Å)</text>
</g>
<g transform="rotate(-90 262.00 285.25)">
<text x="239.56" y="285.25" font-size="12.29" text-anchor="start" fill="#111" textLength="6.78" lengthAdjust="spacingAndGlyphs">k</text>
<text x="246.34" y="288.05" font-size="10.40" text-anchor="start" fill="#111" textLength="5.86" lengthAdjust="spacingAndGlyphs">y</text>
<text x="255.92" y="285.25" font-size="12.29" text-anchor="start" fill="#111" textLength="28.52" lengthAdjust="spacingAndGlyphs">(1/Å)</text>
</g>
</g>
<g id="panel-e">
<rect x="293.1" y="408.70000000000005" width="170.60" height="169.90" fill="#1e48fb"/>
<defs>
<filter id="hb1-e" x="-30%" y="-30%" width="160%" height="160%"><feGaussianBlur stdDeviation="0.5"/></filter>
<filter id="hb2-e" x="-30%" y="-30%" width="160%" height="160%"><feGaussianBlur stdDeviation="1.0"/></filter>
<filter id="hb3-e" x="-30%" y="-30%" width="160%" height="160%"><feGaussianBlur stdDeviation="2.2"/></filter>
<filter id="hb4-e" x="-50%" y="-50%" width="200%" height="200%"><feGaussianBlur stdDeviation="5"/></filter>
<linearGradient id="lobestroke-e" gradientUnits="userSpaceOnUse" x1="0" y1="-31" x2="0" y2="-90">
<stop offset="0" stop-color="#ff3434"/><stop offset="0.08" stop-color="#ff4242"/><stop offset="0.17" stop-color="#ff8c8c"/><stop offset="0.27" stop-color="#ffbcbc"/><stop offset="0.5" stop-color="#ffcccc"/><stop offset="1" stop-color="#ffd4d4"/></linearGradient>
<clipPath id="lobeclip-e"><path d="M-16.9,-33.2 C-17.8,-48 -13.8,-68 -8.0,-85 C-5.2,-93 -2,-100 0,-101 C2,-100 5.2,-93 8.0,-85 C13.8,-68 17.8,-48 16.9,-33.2 C16.9,-30.2 15,-30.6 11,-31.8 Q0,-34.4 -11,-31.8 C-15,-30.6 -16.9,-30.2 -16.9,-33.2 Z"/></clipPath>
<linearGradient id="cupblue-e" gradientUnits="userSpaceOnUse" x1="0" y1="-33" x2="0" y2="-45.5">
<stop offset="0" stop-color="#7c99ff"/><stop offset="0.3" stop-color="#7192ff"/><stop offset="0.65" stop-color="#a9bcff"/><stop offset="1" stop-color="#ffffff" stop-opacity="0"/></linearGradient>
<g id="lobe-e">
 <path d="M-16.9,-33.2 C-17.8,-48 -13.8,-68 -8.0,-85 C-5.2,-93 -2,-100 0,-101 C2,-100 5.2,-93 8.0,-85 C13.8,-68 17.8,-48 16.9,-33.2 C16.9,-30.2 15,-30.6 11,-31.8 Q0,-34.4 -11,-31.8 C-15,-30.6 -16.9,-30.2 -16.9,-33.2 Z" fill="#ffffff" stroke="#ffffff" stroke-width="14" stroke-opacity="0.3" fill-opacity="0.3" filter="url(#hb4-e)"/>
 <path d="M-16.9,-33.2 C-17.8,-48 -13.8,-68 -8.0,-85 C-5.2,-93 -2,-100 0,-101 C2,-100 5.2,-93 8.0,-85 C13.8,-68 17.8,-48 16.9,-33.2 C16.9,-30.2 15,-30.6 11,-31.8 Q0,-34.4 -11,-31.8 C-15,-30.6 -16.9,-30.2 -16.9,-33.2 Z" fill="#ffffff" stroke="#ffffff" stroke-width="5" filter="url(#hb3-e)"/>
 <path d="M-16.9,-33.2 C-17.8,-48 -13.8,-68 -8.0,-85 C-5.2,-93 -2,-100 0,-101 C2,-100 5.2,-93 8.0,-85 C13.8,-68 17.8,-48 16.9,-33.2 C16.9,-30.2 15,-30.6 11,-31.8 Q0,-34.4 -11,-31.8 C-15,-30.6 -16.9,-30.2 -16.9,-33.2 Z" fill="#ffffff" stroke="#fff" stroke-width="1.5"/>
 <g clip-path="url(#lobeclip-e)">
 <path d="M-16.9,-33.2 C-17.8,-48 -13.8,-68 -8.0,-85 C-5.2,-93 -2,-100 0,-101 C2,-100 5.2,-93 8.0,-85 C13.8,-68 17.8,-48 16.9,-33.2 C16.9,-30.2 15,-30.6 11,-31.8 Q0,-34.4 -11,-31.8 C-15,-30.6 -16.9,-30.2 -16.9,-33.2 Z" fill="none" stroke="#ffc2c2" stroke-width="5.0" filter="url(#hb2-e)"/>
 <path d="M-9,-50 C-9.5,-60 -8,-72 -4.5,-85 C-3,-92 -1,-96 0,-97 C1,-96 3,-92 4.5,-85 C8,-72 9.5,-60 9,-50 Z" fill="#f4f6ff" filter="url(#hb3-e)"/>
 <path d="M-16.2,-32.6 L-16.4,-38.5 Q-9,-44.6 0,-45.2 Q9,-44.6 16.4,-38.5 L16.2,-32.6 Q0,-35.6 -16.2,-32.6 Z" fill="url(#cupblue-e)" filter="url(#hb2-e)"/>
 <path d="M-13.3,-43.6 L0,-55.6 L13.3,-43.6" fill="none" stroke="#ffd2d2" stroke-width="4.6" stroke-linejoin="round" stroke-linecap="round" filter="url(#hb2-e)"/>
 <path d="M-7.4,-83.4 L0,-78.6 L7.4,-83.4" fill="none" stroke="#ffcccc" stroke-width="2.8" stroke-linejoin="round" filter="url(#hb2-e)"/>
 </g>
 <path d="M-16.9,-33.2 C-17.8,-48 -13.8,-68 -8.0,-85 C-5.2,-93 -2,-100 0,-101 C2,-100 5.2,-93 8.0,-85 C13.8,-68 17.8,-48 16.9,-33.2 C16.9,-30.2 15,-30.6 11,-31.8 Q0,-34.4 -11,-31.8 C-15,-30.6 -16.9,-30.2 -16.9,-33.2 Z" fill="none" stroke="url(#lobestroke-e)" stroke-width="1.3" filter="url(#hb1-e)"/>
</g>
</defs>
<clipPath id="hclip-e"><rect x="293.1" y="408.70000000000005" width="170.60" height="169.90"/></clipPath>
<g clip-path="url(#hclip-e)"><g transform="translate(378.3,493.70000000000005) scale(-1,1)">
<circle r="38" fill="#ffffff" fill-opacity="0.45" filter="url(#hb4-e)"/><circle r="28" fill="#ffffff" filter="url(#hb4-e)"/>
<circle r="28.5" fill="#ffffff" filter="url(#hb3-e)"/>
<use href="#lobe-e" transform="rotate(0)"/>
<use href="#lobe-e" transform="rotate(90)"/>
<use href="#lobe-e" transform="rotate(180)"/>
<use href="#lobe-e" transform="rotate(270)"/>
<circle r="24.8" fill="#ff8787" filter="url(#hb2-e)"/>
<circle r="24.0" fill="none" stroke="#ffb4b4" stroke-width="1.2" filter="url(#hb1-e)"/>
<path d="M31.97,1.40 L31.64,2.49 L31.17,3.55 L30.64,4.58 L30.08,5.57 L29.49,6.54 L28.88,7.47 L28.26,8.37 L27.63,9.25 L27.00,10.09 L26.35,10.92 L25.71,11.72 L25.06,12.50 L24.41,13.25 L23.76,14.00 L23.11,14.72 L22.45,15.43 L21.79,16.12 L21.12,16.80 L20.46,17.47 L19.79,18.13 L19.11,18.78 L18.43,19.42 L17.74,20.05 L17.04,20.67 L16.34,21.29 L15.62,21.90 L14.90,22.51 L14.16,23.11 L13.41,23.71 L12.65,24.30 L11.87,24.89 L11.08,25.47 L10.26,26.06 L9.43,26.63 L8.58,27.21 L7.70,27.77 L6.80,28.33 L5.88,28.88 L4.92,29.42 L3.94,29.95 L2.93,30.45 L1.89,30.93 L0.82,31.36 L-0.28,31.73 L-1.40,31.97 L-2.49,31.64 L-3.55,31.17 L-4.58,30.64 L-5.57,30.08 L-6.54,29.49 L-7.47,28.88 L-8.37,28.26 L-9.25,27.63 L-10.09,27.00 L-10.92,26.35 L-11.72,25.71 L-12.50,25.06 L-13.25,24.41 L-14.00,23.76 L-14.72,23.11 L-15.43,22.45 L-16.12,21.79 L-16.80,21.12 L-17.47,20.46 L-18.13,19.79 L-18.78,19.11 L-19.42,18.43 L-20.05,17.74 L-20.67,17.04 L-21.29,16.34 L-21.90,15.62 L-22.51,14.90 L-23.11,14.16 L-23.71,13.41 L-24.30,12.65 L-24.89,11.87 L-25.47,11.08 L-26.06,10.26 L-26.63,9.43 L-27.21,8.58 L-27.77,7.70 L-28.33,6.80 L-28.88,5.88 L-29.42,4.92 L-29.95,3.94 L-30.45,2.93 L-30.93,1.89 L-31.36,0.82 L-31.73,-0.28 L-31.97,-1.40 L-31.64,-2.49 L-31.17,-3.55 L-30.64,-4.58 L-30.08,-5.57 L-29.49,-6.54 L-28.88,-7.47 L-28.26,-8.37 L-27.63,-9.25 L-27.00,-10.09 L-26.35,-10.92 L-25.71,-11.72 L-25.06,-12.50 L-24.41,-13.25 L-23.76,-14.00 L-23.11,-14.72 L-22.45,-15.43 L-21.79,-16.12 L-21.12,-16.80 L-20.46,-17.47 L-19.79,-18.13 L-19.11,-18.78 L-18.43,-19.42 L-17.74,-20.05 L-17.04,-20.67 L-16.34,-21.29 L-15.62,-21.90 L-14.90,-22.51 L-14.16,-23.11 L-13.41,-23.71 L-12.65,-24.30 L-11.87,-24.89 L-11.08,-25.47 L-10.26,-26.06 L-9.43,-26.63 L-8.58,-27.21 L-7.70,-27.77 L-6.80,-28.33 L-5.88,-28.88 L-4.92,-29.42 L-3.94,-29.95 L-2.93,-30.45 L-1.89,-30.93 L-0.82,-31.36 L0.28,-31.73 L1.40,-31.97 L2.49,-31.64 L3.55,-31.17 L4.58,-30.64 L5.57,-30.08 L6.54,-29.49 L7.47,-28.88 L8.37,-28.26 L9.25,-27.63 L10.09,-27.00 L10.92,-26.35 L11.72,-25.71 L12.50,-25.06 L13.25,-24.41 L14.00,-23.76 L14.72,-23.11 L15.43,-22.45 L16.12,-21.79 L16.80,-21.12 L17.47,-20.46 L18.13,-19.79 L18.78,-19.11 L19.42,-18.43 L20.05,-17.74 L20.67,-17.04 L21.29,-16.34 L21.90,-15.62 L22.51,-14.90 L23.11,-14.16 L23.71,-13.41 L24.30,-12.65 L24.89,-11.87 L25.47,-11.08 L26.06,-10.26 L26.63,-9.43 L27.21,-8.58 L27.77,-7.70 L28.33,-6.80 L28.88,-5.88 L29.42,-4.92 L29.95,-3.94 L30.45,-2.93 L30.93,-1.89 L31.36,-0.82 L31.73,0.28Z" fill="none" stroke="#ff4242" stroke-width="1.45" stroke-linejoin="round" filter="url(#hb1-e)"/>
<path d="M25.88,-4.10 L26.02,-3.19 L26.16,-2.29 L26.29,-1.38 L26.40,-0.46 L26.51,0.46 L26.60,1.39 L26.67,2.33 L26.72,3.28 L26.74,4.24 L26.74,5.20 L26.70,6.16 L26.63,7.14 L26.53,8.11 L26.39,9.09 L26.23,10.07 L26.06,11.06 L25.89,12.07 L25.76,13.12 L25.64,14.21 L25.50,15.32 L25.27,16.41 L24.86,17.41 L24.24,18.27 L23.41,18.96 L22.45,19.52 L21.44,19.99 L20.44,20.44 L19.49,20.90 L18.57,21.36 L17.68,21.83 L16.80,22.29 L15.91,22.72 L15.02,23.12 L14.11,23.49 L13.20,23.82 L12.29,24.12 L11.38,24.40 L10.46,24.64 L9.55,24.87 L8.63,25.07 L7.72,25.25 L6.81,25.43 L5.91,25.58 L5.00,25.73 L4.10,25.88 L3.19,26.02 L2.29,26.16 L1.38,26.29 L0.46,26.40 L-0.46,26.51 L-1.39,26.60 L-2.33,26.67 L-3.28,26.72 L-4.24,26.74 L-5.20,26.74 L-6.16,26.70 L-7.14,26.63 L-8.11,26.53 L-9.09,26.39 L-10.07,26.23 L-11.06,26.06 L-12.07,25.89 L-13.12,25.76 L-14.21,25.64 L-15.32,25.50 L-16.41,25.27 L-17.41,24.86 L-18.27,24.24 L-18.96,23.41 L-19.52,22.45 L-19.99,21.44 L-20.44,20.44 L-20.90,19.49 L-21.36,18.57 L-21.83,17.68 L-22.29,16.80 L-22.72,15.91 L-23.12,15.02 L-23.49,14.11 L-23.82,13.20 L-24.12,12.29 L-24.40,11.38 L-24.64,10.46 L-24.87,9.55 L-25.07,8.63 L-25.25,7.72 L-25.43,6.81 L-25.58,5.91 L-25.73,5.00 L-25.88,4.10 L-26.02,3.19 L-26.16,2.29 L-26.29,1.38 L-26.40,0.46 L-26.51,-0.46 L-26.60,-1.39 L-26.67,-2.33 L-26.72,-3.28 L-26.74,-4.24 L-26.74,-5.20 L-26.70,-6.16 L-26.63,-7.14 L-26.53,-8.11 L-26.39,-9.09 L-26.23,-10.07 L-26.06,-11.06 L-25.89,-12.07 L-25.76,-13.12 L-25.64,-14.21 L-25.50,-15.32 L-25.27,-16.41 L-24.86,-17.41 L-24.24,-18.27 L-23.41,-18.96 L-22.45,-19.52 L-21.44,-19.99 L-20.44,-20.44 L-19.49,-20.90 L-18.57,-21.36 L-17.68,-21.83 L-16.80,-22.29 L-15.91,-22.72 L-15.02,-23.12 L-14.11,-23.49 L-13.20,-23.82 L-12.29,-24.12 L-11.38,-24.40 L-10.46,-24.64 L-9.55,-24.87 L-8.63,-25.07 L-7.72,-25.25 L-6.81,-25.43 L-5.91,-25.58 L-5.00,-25.73 L-4.10,-25.88 L-3.19,-26.02 L-2.29,-26.16 L-1.38,-26.29 L-0.46,-26.40 L0.46,-26.51 L1.39,-26.60 L2.33,-26.67 L3.28,-26.72 L4.24,-26.74 L5.20,-26.74 L6.16,-26.70 L7.14,-26.63 L8.11,-26.53 L9.09,-26.39 L10.07,-26.23 L11.06,-26.06 L12.07,-25.89 L13.12,-25.76 L14.21,-25.64 L15.32,-25.50 L16.41,-25.27 L17.41,-24.86 L18.27,-24.24 L18.96,-23.41 L19.52,-22.45 L19.99,-21.44 L20.44,-20.44 L20.90,-19.49 L21.36,-18.57 L21.83,-17.68 L22.29,-16.80 L22.72,-15.91 L23.12,-15.02 L23.49,-14.11 L23.82,-13.20 L24.12,-12.29 L24.40,-11.38 L24.64,-10.46 L24.87,-9.55 L25.07,-8.63 L25.25,-7.72 L25.43,-6.81 L25.58,-5.91 L25.73,-5.00Z" fill="none" stroke="#ff4a4a" stroke-width="1.45" stroke-linejoin="round" filter="url(#hb1-e)"/>
<rect x="-16.6" y="-16.6" width="33.2" height="33.2" rx="6" fill="#ff6666" stroke="#ff5a5a" stroke-width="1" filter="url(#hb1-e)"/>
<rect x="-13.5" y="-13.5" width="27" height="27" rx="5.5" fill="#ff6262" filter="url(#hb2-e)"/>
<circle r="8.4" fill="#ff8484" stroke="#ff4c4c" stroke-width="1.5" filter="url(#hb1-e)"/>
</g></g>
<rect x="293.1" y="408.70000000000005" width="170.60" height="169.90" fill="none" stroke="#000" stroke-width="1.1"/>
<text x="308.50" y="590.90" font-size="12.08" text-anchor="middle" fill="#111" textLength="22.44" lengthAdjust="spacingAndGlyphs">-0.4</text>
<text x="290.60" y="567.45" font-size="12.08" text-anchor="end" fill="#111" textLength="22.44" lengthAdjust="spacingAndGlyphs">-0.4</text>
<text x="343.20" y="590.90" font-size="12.08" text-anchor="middle" fill="#111" textLength="22.44" lengthAdjust="spacingAndGlyphs">-0.2</text>
<text x="290.60" y="532.75" font-size="12.08" text-anchor="end" fill="#111" textLength="22.44" lengthAdjust="spacingAndGlyphs">-0.2</text>
<text x="377.90" y="590.90" font-size="12.08" text-anchor="middle" fill="#111" textLength="18.29" lengthAdjust="spacingAndGlyphs">0.0</text>
<text x="290.60" y="498.05" font-size="12.08" text-anchor="end" fill="#111" textLength="18.29" lengthAdjust="spacingAndGlyphs">0.0</text>
<text x="412.60" y="590.90" font-size="12.08" text-anchor="middle" fill="#111" textLength="18.29" lengthAdjust="spacingAndGlyphs">0.2</text>
<text x="290.60" y="463.35" font-size="12.08" text-anchor="end" fill="#111" textLength="18.29" lengthAdjust="spacingAndGlyphs">0.2</text>
<text x="447.30" y="590.90" font-size="12.08" text-anchor="middle" fill="#111" textLength="18.29" lengthAdjust="spacingAndGlyphs">0.4</text>
<text x="290.60" y="428.65" font-size="12.08" text-anchor="end" fill="#111" textLength="18.29" lengthAdjust="spacingAndGlyphs">0.4</text>
<path d="M309.00 578.60 v-4 M309.00 408.70 v4 M293.1 563.05 h4 M463.7 563.05 h-4 M343.70 578.60 v-4 M343.70 408.70 v4 M293.1 528.35 h4 M463.7 528.35 h-4 M378.40 578.60 v-4 M378.40 408.70 v4 M293.1 493.65 h4 M463.7 493.65 h-4 M413.10 578.60 v-4 M413.10 408.70 v4 M293.1 458.95 h4 M463.7 458.95 h-4 M447.80 578.60 v-4 M447.80 408.70 v4 M293.1 424.25 h4 M463.7 424.25 h-4" stroke="#000" stroke-width="1" fill="none"/>
<text x="299.30" y="427.50" font-size="14.00" text-anchor="start" fill="#fbbf10">+0.014</text>
<text x="438.30" y="427.50" font-size="14.00" text-anchor="middle" fill="#fbbf10">bottom</text>
<text x="248.10" y="419.30" font-size="15.90" text-anchor="start" fill="#111">(e)</text>
<g>
<text x="355.96" y="604.90" font-size="12.29" text-anchor="start" fill="#111" textLength="6.78" lengthAdjust="spacingAndGlyphs">k</text>
<text x="362.74" y="607.70" font-size="10.40" text-anchor="start" fill="#111" textLength="5.86" lengthAdjust="spacingAndGlyphs">x</text>
<text x="372.32" y="604.90" font-size="12.29" text-anchor="start" fill="#111" textLength="28.52" lengthAdjust="spacingAndGlyphs">(1/Å)</text>
</g>
<g transform="rotate(-90 262.00 493.65)">
<text x="239.56" y="493.65" font-size="12.29" text-anchor="start" fill="#111" textLength="6.78" lengthAdjust="spacingAndGlyphs">k</text>
<text x="246.34" y="496.45" font-size="10.40" text-anchor="start" fill="#111" textLength="5.86" lengthAdjust="spacingAndGlyphs">y</text>
<text x="255.92" y="493.65" font-size="12.29" text-anchor="start" fill="#111" textLength="28.52" lengthAdjust="spacingAndGlyphs">(1/Å)</text>
</g>
</g>
<g id="panel-f">
<clipPath id="clip-f"><rect x="514.1" y="200.5" width="170.20" height="169.50"/></clipPath>
<g clip-path="url(#clip-f)"><defs><filter id="bla-f" filterUnits="userSpaceOnUse" x="480" y="160" width="240" height="250"><feGaussianBlur stdDeviation="0.5"/></filter><filter id="blb-f" filterUnits="userSpaceOnUse" x="480" y="160" width="240" height="250"><feGaussianBlur stdDeviation="1.0"/></filter><filter id="blc-f" filterUnits="userSpaceOnUse" x="480" y="160" width="240" height="250"><feGaussianBlur stdDeviation="1.8"/></filter><filter id="bld-f" filterUnits="userSpaceOnUse" x="480" y="160" width="240" height="250"><feGaussianBlur stdDeviation="3.0"/></filter><filter id="ble-f" filterUnits="userSpaceOnUse" x="480" y="160" width="240" height="250"><feGaussianBlur stdDeviation="5.0"/></filter><filter id="blf-f" filterUnits="userSpaceOnUse" x="480" y="160" width="240" height="250"><feGaussianBlur stdDeviation="8.0"/></filter><linearGradient id="coreA-f" gradientUnits="userSpaceOnUse" x1="514" y1="211" x2="588" y2="246">
<stop offset="0" stop-color="#000" stop-opacity="1"/><stop offset="0.5" stop-color="#000" stop-opacity="0.95"/><stop offset="0.72" stop-color="#200000" stop-opacity="0.55"/><stop offset="1" stop-color="#400000" stop-opacity="0"/></linearGradient>
<linearGradient id="coreB-f" gradientUnits="userSpaceOnUse" x1="672" y1="369" x2="640" y2="296">
<stop offset="0" stop-color="#000" stop-opacity="1"/><stop offset="0.5" stop-color="#000" stop-opacity="0.95"/><stop offset="0.75" stop-color="#200000" stop-opacity="0.5"/><stop offset="1" stop-color="#400000" stop-opacity="0"/></linearGradient>
</defs><path d="M500.00,204.10 C502.33,205.28 507.00,207.63 514.00,211.20 C521.00,214.77 533.83,221.37 542.00,225.50 C550.17,229.63 557.50,233.29 563.00,236.00 C568.50,238.71 571.30,240.03 575.00,241.75 C578.70,243.47 581.80,245.21 585.20,246.35 C588.60,247.49 591.98,248.12 595.40,248.60 C598.82,249.07 602.28,249.02 605.70,249.20 C609.12,249.38 612.85,249.27 615.90,249.70 C618.95,250.13 621.48,250.65 624.00,251.80 C626.52,252.95 629.03,254.62 631.00,256.60 C632.97,258.58 634.53,260.98 635.80,263.70 C637.07,266.42 637.97,270.02 638.60,272.90 C639.23,275.78 639.23,277.98 639.60,281.00 C639.97,284.02 640.37,287.83 640.80,291.00 C641.23,294.17 641.57,296.82 642.20,300.00 C642.83,303.18 641.93,303.40 644.60,310.10 C647.27,316.80 653.55,330.28 658.20,340.20 C662.85,350.12 669.03,362.47 672.50,369.60 C675.97,376.73 677.92,380.77 679.00,383.00" fill="none" stroke="#ff0000" stroke-opacity="0.14" stroke-width="30" filter="url(#ble-f)"/><path d="M500.00,204.10 C502.33,205.28 507.00,207.63 514.00,211.20 C521.00,214.77 533.83,221.37 542.00,225.50 C550.17,229.63 557.50,233.29 563.00,236.00 C568.50,238.71 571.30,240.03 575.00,241.75 C578.70,243.47 581.80,245.21 585.20,246.35 C588.60,247.49 591.98,248.12 595.40,248.60 C598.82,249.07 602.28,249.02 605.70,249.20 C609.12,249.38 612.85,249.27 615.90,249.70 C618.95,250.13 621.48,250.65 624.00,251.80 C626.52,252.95 629.03,254.62 631.00,256.60 C632.97,258.58 634.53,260.98 635.80,263.70 C637.07,266.42 637.97,270.02 638.60,272.90 C639.23,275.78 639.23,277.98 639.60,281.00 C639.97,284.02 640.37,287.83 640.80,291.00 C641.23,294.17 641.57,296.82 642.20,300.00 C642.83,303.18 641.93,303.40 644.60,310.10 C647.27,316.80 653.55,330.28 658.20,340.20 C662.85,350.12 669.03,362.47 672.50,369.60 C675.97,376.73 677.92,380.77 679.00,383.00" fill="none" stroke="#ff0000" stroke-opacity="0.32" stroke-width="14" filter="url(#bld-f)"/><path d="M585.20,246.35 C586.90,246.72 591.98,248.12 595.40,248.60 C598.82,249.07 602.28,249.02 605.70,249.20 C609.12,249.38 612.85,249.27 615.90,249.70 C618.95,250.13 621.48,250.65 624.00,251.80 C626.52,252.95 629.03,254.62 631.00,256.60 C632.97,258.58 634.53,260.98 635.80,263.70 C637.07,266.42 637.97,270.02 638.60,272.90 C639.23,275.78 639.23,277.98 639.60,281.00 C639.97,284.02 640.60,289.33 640.80,291.00" fill="none" stroke="#ff0000" stroke-opacity="0.2" stroke-width="18" stroke-linecap="round" filter="url(#ble-f)"/><path d="M586.00,251.50 C588.00,252.33 594.67,255.00 598.00,256.50 C601.33,258.00 603.92,258.92 606.00,260.50 C608.08,262.08 609.42,263.75 610.50,266.00 C611.58,268.25 610.92,270.67 612.50,274.00 C614.08,277.33 617.25,282.00 620.00,286.00 C622.75,290.00 626.00,294.17 629.00,298.00 C632.00,301.83 635.00,305.00 638.00,309.00 C641.00,313.00 645.50,319.83 647.00,322.00" fill="none" stroke="#ff1a1a" stroke-opacity="0.6" stroke-width="7.5" stroke-linecap="round" filter="url(#blc-f)"/><path d="M590,249 L612,251 L630,259 L636,275 L638,296 L642,308 L632,300 L622,288 L614,274 L607,262 Z" fill="#ff2020" fill-opacity="0.5" filter="url(#blc-f)"/><ellipse cx="619.4" cy="264.2" rx="5.6" ry="7.4" transform="rotate(-28 619.4 264.2)" fill="#ffffff" fill-opacity="0.93" filter="url(#bld-f)"/><ellipse cx="619.4" cy="264.0" rx="2.6" ry="3.6" transform="rotate(-28 619.4 264)" fill="#ffffff" fill-opacity="0.7" filter="url(#blc-f)"/><path d="M500.00,204.10 C502.33,205.28 507.00,207.63 514.00,211.20 C521.00,214.77 533.83,221.37 542.00,225.50 C550.17,229.63 557.50,233.29 563.00,236.00 C568.50,238.71 571.30,240.03 575.00,241.75 C578.70,243.47 581.80,245.21 585.20,246.35 C588.60,247.49 591.98,248.12 595.40,248.60 C598.82,249.07 602.28,249.02 605.70,249.20 C609.12,249.38 612.85,249.27 615.90,249.70 C618.95,250.13 621.48,250.65 624.00,251.80 C626.52,252.95 629.03,254.62 631.00,256.60 C632.97,258.58 634.53,260.98 635.80,263.70 C637.07,266.42 637.97,270.02 638.60,272.90 C639.23,275.78 639.23,277.98 639.60,281.00 C639.97,284.02 640.37,287.83 640.80,291.00 C641.23,294.17 641.57,296.82 642.20,300.00 C642.83,303.18 641.93,303.40 644.60,310.10 C647.27,316.80 653.55,330.28 658.20,340.20 C662.85,350.12 669.03,362.47 672.50,369.60 C675.97,376.73 677.92,380.77 679.00,383.00" fill="none" stroke="#ff0000" stroke-width="7" filter="url(#blc-f)"/><path d="M500.00,204.10 C502.33,205.28 507.00,207.63 514.00,211.20 C521.00,214.77 533.83,221.37 542.00,225.50 C550.17,229.63 557.50,233.29 563.00,236.00 C568.50,238.71 571.30,240.03 575.00,241.75 C578.70,243.47 581.80,245.21 585.20,246.35 C588.60,247.49 591.98,248.12 595.40,248.60 C598.82,249.07 602.28,249.02 605.70,249.20 C609.12,249.38 612.85,249.27 615.90,249.70 C618.95,250.13 621.48,250.65 624.00,251.80 C626.52,252.95 629.03,254.62 631.00,256.60 C632.97,258.58 634.53,260.98 635.80,263.70 C637.07,266.42 637.97,270.02 638.60,272.90 C639.23,275.78 639.23,277.98 639.60,281.00 C639.97,284.02 640.37,287.83 640.80,291.00 C641.23,294.17 641.57,296.82 642.20,300.00 C642.83,303.18 641.93,303.40 644.60,310.10 C647.27,316.80 653.55,330.28 658.20,340.20 C662.85,350.12 669.03,362.47 672.50,369.60 C675.97,376.73 677.92,380.77 679.00,383.00" fill="none" stroke="#f80000" stroke-width="4.6" filter="url(#blb-f)"/><path d="M575.00,241.75 C576.70,242.52 581.80,245.21 585.20,246.35 C588.60,247.49 591.98,248.12 595.40,248.60 C598.82,249.07 602.28,249.02 605.70,249.20 C609.12,249.38 612.85,249.27 615.90,249.70 C618.95,250.13 621.48,250.65 624.00,251.80 C626.52,252.95 629.03,254.62 631.00,256.60 C632.97,258.58 634.53,260.98 635.80,263.70 C637.07,266.42 637.97,270.02 638.60,272.90 C639.23,275.78 639.23,277.98 639.60,281.00 C639.97,284.02 640.37,287.83 640.80,291.00 C641.23,294.17 641.97,298.50 642.20,300.00" fill="none" stroke="#f60000" stroke-width="9.0" stroke-linecap="round" filter="url(#blc-f)"/><path d="M585.20,246.35 C586.90,246.72 591.98,248.12 595.40,248.60 C598.82,249.07 602.28,249.02 605.70,249.20 C609.12,249.38 612.85,249.27 615.90,249.70 C618.95,250.13 621.48,250.65 624.00,251.80 C626.52,252.95 629.03,254.62 631.00,256.60 C632.97,258.58 634.53,260.98 635.80,263.70 C637.07,266.42 637.97,270.02 638.60,272.90 C639.23,275.78 639.23,277.98 639.60,281.00 C639.97,284.02 640.60,289.33 640.80,291.00" fill="none" stroke="#f00000" stroke-width="11.0" stroke-linecap="round" filter="url(#blc-f)"/><path d="M595.40,248.60 C597.12,248.70 602.28,249.02 605.70,249.20 C609.12,249.38 612.85,249.27 615.90,249.70 C618.95,250.13 621.48,250.65 624.00,251.80 C626.52,252.95 629.03,254.62 631.00,256.60 C632.97,258.58 634.53,260.98 635.80,263.70 C637.07,266.42 637.97,270.02 638.60,272.90 C639.23,275.78 639.43,279.65 639.60,281.00" fill="none" stroke="#e00000" stroke-width="8.5" stroke-linecap="round" filter="url(#blc-f)"/><path d="M500.00,204.10 C502.33,205.28 507.00,207.63 514.00,211.20 C521.00,214.77 533.83,221.37 542.00,225.50 C550.17,229.63 557.50,233.29 563.00,236.00 C568.50,238.71 571.30,240.03 575.00,241.75 C578.70,243.47 581.80,245.21 585.20,246.35 C588.60,247.49 591.98,248.12 595.40,248.60 C598.82,249.07 602.28,249.02 605.70,249.20 C609.12,249.38 612.85,249.27 615.90,249.70 C618.95,250.13 621.48,250.65 624.00,251.80 C626.52,252.95 629.03,254.62 631.00,256.60 C632.97,258.58 634.53,260.98 635.80,263.70 C637.07,266.42 637.97,270.02 638.60,272.90 C639.23,275.78 639.23,277.98 639.60,281.00 C639.97,284.02 640.37,287.83 640.80,291.00 C641.23,294.17 641.57,296.82 642.20,300.00 C642.83,303.18 641.93,303.40 644.60,310.10 C647.27,316.80 653.55,330.28 658.20,340.20 C662.85,350.12 669.03,362.47 672.50,369.60 C675.97,376.73 677.92,380.77 679.00,383.00" fill="none" stroke="#bc0000" stroke-width="3.4" filter="url(#blc-f)"/><path d="M500.00,204.10 C502.33,205.28 507.00,207.63 514.00,211.20 C521.00,214.77 533.83,221.37 542.00,225.50 C550.17,229.63 557.50,233.29 563.00,236.00 C568.50,238.71 571.30,240.03 575.00,241.75 C578.70,243.47 581.80,245.21 585.20,246.35 C588.60,247.49 591.98,248.12 595.40,248.60 C598.82,249.07 602.28,249.02 605.70,249.20 C609.12,249.38 612.85,249.27 615.90,249.70 C618.95,250.13 621.48,250.65 624.00,251.80 C626.52,252.95 629.03,254.62 631.00,256.60 C632.97,258.58 634.53,260.98 635.80,263.70 C637.07,266.42 637.97,270.02 638.60,272.90 C639.23,275.78 639.23,277.98 639.60,281.00 C639.97,284.02 640.37,287.83 640.80,291.00 C641.23,294.17 641.57,296.82 642.20,300.00 C642.83,303.18 641.93,303.40 644.60,310.10 C647.27,316.80 653.55,330.28 658.20,340.20 C662.85,350.12 669.03,362.47 672.50,369.60 C675.97,376.73 677.92,380.77 679.00,383.00" fill="none" stroke="url(#coreA-f)" stroke-width="2.0" filter="url(#blb-f)"/><path d="M500.00,204.10 C502.33,205.28 507.00,207.63 514.00,211.20 C521.00,214.77 533.83,221.37 542.00,225.50 C550.17,229.63 557.50,233.29 563.00,236.00 C568.50,238.71 571.30,240.03 575.00,241.75 C578.70,243.47 581.80,245.21 585.20,246.35 C588.60,247.49 591.98,248.12 595.40,248.60 C598.82,249.07 602.28,249.02 605.70,249.20 C609.12,249.38 612.85,249.27 615.90,249.70 C618.95,250.13 621.48,250.65 624.00,251.80 C626.52,252.95 629.03,254.62 631.00,256.60 C632.97,258.58 634.53,260.98 635.80,263.70 C637.07,266.42 637.97,270.02 638.60,272.90 C639.23,275.78 639.23,277.98 639.60,281.00 C639.97,284.02 640.37,287.83 640.80,291.00 C641.23,294.17 641.57,296.82 642.20,300.00 C642.83,303.18 641.93,303.40 644.60,310.10 C647.27,316.80 653.55,330.28 658.20,340.20 C662.85,350.12 669.03,362.47 672.50,369.60 C675.97,376.73 677.92,380.77 679.00,383.00" fill="none" stroke="url(#coreB-f)" stroke-width="2.0" filter="url(#blb-f)"/><path d="M500.00,204.10 C502.33,205.28 507.00,207.63 514.00,211.20 C521.00,214.77 533.83,221.37 542.00,225.50 C550.17,229.63 557.50,233.29 563.00,236.00 C568.50,238.71 571.30,240.03 575.00,241.75 C578.70,243.47 581.80,245.21 585.20,246.35 C588.60,247.49 591.98,248.12 595.40,248.60 C598.82,249.07 602.28,249.02 605.70,249.20 C609.12,249.38 612.85,249.27 615.90,249.70 C618.95,250.13 621.48,250.65 624.00,251.80 C626.52,252.95 629.03,254.62 631.00,256.60 C632.97,258.58 634.53,260.98 635.80,263.70 C637.07,266.42 637.97,270.02 638.60,272.90 C639.23,275.78 639.23,277.98 639.60,281.00 C639.97,284.02 640.37,287.83 640.80,291.00 C641.23,294.17 641.57,296.82 642.20,300.00 C642.83,303.18 641.93,303.40 644.60,310.10 C647.27,316.80 653.55,330.28 658.20,340.20 C662.85,350.12 669.03,362.47 672.50,369.60 C675.97,376.73 677.92,380.77 679.00,383.00" fill="none" stroke="url(#coreA-f)" stroke-width="1.3" filter="url(#bla-f)"/><path d="M500.00,204.10 C502.33,205.28 507.00,207.63 514.00,211.20 C521.00,214.77 533.83,221.37 542.00,225.50 C550.17,229.63 557.50,233.29 563.00,236.00 C568.50,238.71 571.30,240.03 575.00,241.75 C578.70,243.47 581.80,245.21 585.20,246.35 C588.60,247.49 591.98,248.12 595.40,248.60 C598.82,249.07 602.28,249.02 605.70,249.20 C609.12,249.38 612.85,249.27 615.90,249.70 C618.95,250.13 621.48,250.65 624.00,251.80 C626.52,252.95 629.03,254.62 631.00,256.60 C632.97,258.58 634.53,260.98 635.80,263.70 C637.07,266.42 637.97,270.02 638.60,272.90 C639.23,275.78 639.23,277.98 639.60,281.00 C639.97,284.02 640.37,287.83 640.80,291.00 C641.23,294.17 641.57,296.82 642.20,300.00 C642.83,303.18 641.93,303.40 644.60,310.10 C647.27,316.80 653.55,330.28 658.20,340.20 C662.85,350.12 669.03,362.47 672.50,369.60 C675.97,376.73 677.92,380.77 679.00,383.00" fill="none" stroke="url(#coreB-f)" stroke-width="1.3" filter="url(#bla-f)"/></g>
<circle cx="611.1" cy="273.60" r="2.9" fill="#10e622"/>
<rect x="561.5" y="317.20" width="5.8" height="5.8" fill="#000"/>
<rect x="514.1" y="200.5" width="170.20" height="169.50" fill="none" stroke="#333" stroke-width="1.1"/>
<text x="548.20" y="382.50" font-size="12.08" text-anchor="middle" fill="#111" textLength="25.61" lengthAdjust="spacingAndGlyphs">0.08</text>
<text x="511.80" y="340.80" font-size="12.08" text-anchor="end" fill="#111" textLength="25.61" lengthAdjust="spacingAndGlyphs">0.08</text>
<text x="583.63" y="382.50" font-size="12.08" text-anchor="middle" fill="#111" textLength="25.61" lengthAdjust="spacingAndGlyphs">0.10</text>
<text x="511.80" y="305.43" font-size="12.08" text-anchor="end" fill="#111" textLength="25.61" lengthAdjust="spacingAndGlyphs">0.10</text>
<text x="619.06" y="382.50" font-size="12.08" text-anchor="middle" fill="#111" textLength="25.61" lengthAdjust="spacingAndGlyphs">0.12</text>
<text x="511.80" y="270.06" font-size="12.08" text-anchor="end" fill="#111" textLength="25.61" lengthAdjust="spacingAndGlyphs">0.12</text>
<text x="654.49" y="382.50" font-size="12.08" text-anchor="middle" fill="#111" textLength="25.61" lengthAdjust="spacingAndGlyphs">0.14</text>
<text x="511.80" y="234.69" font-size="12.08" text-anchor="end" fill="#111" textLength="25.61" lengthAdjust="spacingAndGlyphs">0.14</text>
<path d="M548.20 370.00 v-4 M548.20 200.50 v4 M514.1 336.40 h4 M684.3 336.40 h-4 M583.63 370.00 v-4 M583.63 200.50 v4 M514.1 301.03 h4 M684.3 301.03 h-4 M619.06 370.00 v-4 M619.06 200.50 v4 M514.1 265.66 h4 M684.3 265.66 h-4 M654.49 370.00 v-4 M654.49 200.50 v4 M514.1 230.29 h4 M684.3 230.29 h-4" stroke="#333" stroke-width="1" fill="none"/>
<text x="467.60" y="211.10" font-size="15.90" text-anchor="start" fill="#111">(f)</text>
<g>
<text x="576.76" y="396.30" font-size="12.29" text-anchor="start" fill="#111" textLength="6.78" lengthAdjust="spacingAndGlyphs">k</text>
<text x="583.54" y="399.10" font-size="10.40" text-anchor="start" fill="#111" textLength="5.86" lengthAdjust="spacingAndGlyphs">x</text>
<text x="593.12" y="396.30" font-size="12.29" text-anchor="start" fill="#111" textLength="28.52" lengthAdjust="spacingAndGlyphs">(1/Å)</text>
</g>
<g transform="rotate(-90 479.80 285.25)">
<text x="457.36" y="285.25" font-size="12.29" text-anchor="start" fill="#111" textLength="6.78" lengthAdjust="spacingAndGlyphs">k</text>
<text x="464.14" y="288.05" font-size="10.40" text-anchor="start" fill="#111" textLength="5.86" lengthAdjust="spacingAndGlyphs">y</text>
<text x="473.72" y="285.25" font-size="12.29" text-anchor="start" fill="#111" textLength="28.52" lengthAdjust="spacingAndGlyphs">(1/Å)</text>
</g>
</g>
<g id="panel-g">
<clipPath id="clip-g"><rect x="514.1" y="409.1" width="170.20" height="169.50"/></clipPath>
<g clip-path="url(#clip-g)"><defs><filter id="bla-g" filterUnits="userSpaceOnUse" x="480" y="368" width="240" height="250"><feGaussianBlur stdDeviation="0.5"/></filter><filter id="blb-g" filterUnits="userSpaceOnUse" x="480" y="368" width="240" height="250"><feGaussianBlur stdDeviation="1.0"/></filter><filter id="blc-g" filterUnits="userSpaceOnUse" x="480" y="368" width="240" height="250"><feGaussianBlur stdDeviation="1.8"/></filter><filter id="bld-g" filterUnits="userSpaceOnUse" x="480" y="368" width="240" height="250"><feGaussianBlur stdDeviation="3.0"/></filter><filter id="ble-g" filterUnits="userSpaceOnUse" x="480" y="368" width="240" height="250"><feGaussianBlur stdDeviation="5.0"/></filter><filter id="blf-g" filterUnits="userSpaceOnUse" x="480" y="368" width="240" height="250"><feGaussianBlur stdDeviation="8.0"/></filter><linearGradient id="coreA-g" gradientUnits="userSpaceOnUse" x1="514" y1="430.0" x2="548" y2="468.0">
<stop offset="0" stop-color="#000" stop-opacity="1"/><stop offset="0.45" stop-color="#000" stop-opacity="0.95"/><stop offset="0.75" stop-color="#200000" stop-opacity="0.5"/><stop offset="1" stop-color="#400000" stop-opacity="0"/></linearGradient>
<linearGradient id="coreB-g" gradientUnits="userSpaceOnUse" x1="661" y1="578.0" x2="627" y2="541.0">
<stop offset="0" stop-color="#000" stop-opacity="1"/><stop offset="0.5" stop-color="#000" stop-opacity="0.95"/><stop offset="0.78" stop-color="#200000" stop-opacity="0.5"/><stop offset="1" stop-color="#400000" stop-opacity="0"/></linearGradient>
<linearGradient id="darkA-g" gradientUnits="userSpaceOnUse" x1="514" y1="430.0" x2="575" y2="478.0">
<stop offset="0" stop-color="#a00000" stop-opacity="0.9"/><stop offset="0.6" stop-color="#b00000" stop-opacity="0.8"/><stop offset="1" stop-color="#c00000" stop-opacity="0"/></linearGradient>
<linearGradient id="darkB-g" gradientUnits="userSpaceOnUse" x1="661" y1="578.0" x2="612" y2="512.0">
<stop offset="0" stop-color="#a00000" stop-opacity="0.9"/><stop offset="0.65" stop-color="#b00000" stop-opacity="0.8"/><stop offset="1" stop-color="#c00000" stop-opacity="0"/></linearGradient>
<linearGradient id="sec1-g" gradientUnits="userSpaceOnUse" x1="514" y1="0" x2="555" y2="0">
<stop offset="0" stop-color="#e80000" stop-opacity="1"/><stop offset="0.45" stop-color="#f40000" stop-opacity="0.95"/><stop offset="1" stop-color="#ff0000" stop-opacity="0"/></linearGradient>
<linearGradient id="sec2-g" gradientUnits="userSpaceOnUse" x1="0" y1="578.0" x2="0" y2="531.0">
<stop offset="0" stop-color="#e80000" stop-opacity="1"/><stop offset="0.68" stop-color="#f40000" stop-opacity="0.95"/><stop offset="1" stop-color="#ff0000" stop-opacity="0"/></linearGradient>
<linearGradient id="haze-g" gradientUnits="userSpaceOnUse" x1="560" y1="540.0" x2="690" y2="420.0">
<stop offset="0" stop-color="#ff0000" stop-opacity="0"/><stop offset="0.3" stop-color="#ff0000" stop-opacity="0.02"/><stop offset="0.7" stop-color="#ff0000" stop-opacity="0.008"/><stop offset="1" stop-color="#ff0000" stop-opacity="0"/></linearGradient>
<clipPath id="ll-g"><path d="M500.00,456.00 C502.33,457.08 509.22,460.18 514.00,462.50 C518.78,464.82 523.78,467.20 528.70,469.90 C533.62,472.60 538.52,475.68 543.50,478.70 C548.48,481.72 553.35,483.97 558.60,488.00 C563.85,492.03 569.83,497.67 575.00,502.90 C580.17,508.13 584.22,513.45 589.60,519.40 C594.98,525.35 602.58,533.17 607.30,538.60 C612.02,544.03 614.92,548.02 617.90,552.00 C620.88,555.98 622.52,558.25 625.20,562.50 C627.88,566.75 631.53,572.92 634.00,577.50 C636.47,582.08 639.00,587.92 640.00,590.00 L490,590.0 L490,456.0 Z" transform="translate(-0.9,0.9)"/></clipPath>
</defs><rect x="514" y="400.0" width="172" height="190" fill="url(#haze-g)"/><path d="M505.00,417.50 C506.50,419.60 511.27,426.28 514.00,430.10 C516.73,433.92 518.95,436.97 521.40,440.40 C523.85,443.83 526.25,447.63 528.70,450.70 C531.15,453.77 533.63,456.47 536.10,458.80 C538.57,461.13 539.82,462.85 543.50,464.70 C547.18,466.55 553.30,468.10 558.20,469.90 C563.10,471.70 569.08,472.23 572.90,475.50 C576.72,478.77 578.50,484.70 581.10,489.50 C583.70,494.30 584.82,500.12 588.50,504.30 C592.18,508.48 599.12,512.28 603.20,514.60 C607.28,516.92 610.13,516.88 613.00,518.20 C615.87,519.52 618.60,520.25 620.40,522.50 C622.20,524.75 622.48,528.43 623.80,531.70 C625.12,534.97 626.32,538.62 628.30,542.10 C630.28,545.58 632.73,549.12 635.70,552.60 C638.67,556.08 643.12,559.90 646.10,563.00 C649.08,566.10 651.12,568.72 653.60,571.20 C656.08,573.68 657.93,575.10 661.00,577.90 C664.07,580.70 670.17,586.32 672.00,588.00" fill="none" stroke="#ff0000" stroke-opacity="0.15" stroke-width="32" filter="url(#ble-g)"/><path d="M505.00,417.50 C506.50,419.60 511.27,426.28 514.00,430.10 C516.73,433.92 518.95,436.97 521.40,440.40 C523.85,443.83 526.25,447.63 528.70,450.70 C531.15,453.77 533.63,456.47 536.10,458.80 C538.57,461.13 539.82,462.85 543.50,464.70 C547.18,466.55 553.30,468.10 558.20,469.90 C563.10,471.70 569.08,472.23 572.90,475.50 C576.72,478.77 578.50,484.70 581.10,489.50 C583.70,494.30 584.82,500.12 588.50,504.30 C592.18,508.48 599.12,512.28 603.20,514.60 C607.28,516.92 610.13,516.88 613.00,518.20 C615.87,519.52 618.60,520.25 620.40,522.50 C622.20,524.75 622.48,528.43 623.80,531.70 C625.12,534.97 626.32,538.62 628.30,542.10 C630.28,545.58 632.73,549.12 635.70,552.60 C638.67,556.08 643.12,559.90 646.10,563.00 C649.08,566.10 651.12,568.72 653.60,571.20 C656.08,573.68 657.93,575.10 661.00,577.90 C664.07,580.70 670.17,586.32 672.00,588.00" fill="none" stroke="#ff0000" stroke-opacity="0.32" stroke-width="15" filter="url(#bld-g)"/><path d="M538.00,461.00 C540.33,461.25 546.67,462.00 552.00,462.50 C557.33,463.00 564.00,463.58 570.00,464.00 C576.00,464.42 582.50,464.25 588.00,465.00 C593.50,465.75 598.50,466.87 603.00,468.50 C607.50,470.13 611.70,471.88 615.00,474.80 C618.30,477.72 621.08,481.08 622.80,486.00 C624.52,490.92 624.52,498.55 625.30,504.30 C626.08,510.05 626.55,515.38 627.50,520.50 C628.45,525.62 631.92,530.42 631.00,535.00 C630.08,539.58 626.33,547.33 622.00,548.00 C617.67,548.67 610.58,543.58 605.00,539.00 C599.42,534.42 593.72,526.28 588.50,520.50 C583.28,514.72 578.87,509.55 573.70,504.30 C568.53,499.05 562.53,493.27 557.50,489.00 C552.47,484.73 547.58,482.20 543.50,478.70 C539.42,475.20 533.92,470.95 533.00,468.00 C532.08,465.05 537.17,462.17 538.00,461.00" fill="#ff1010" fill-opacity="0.38" filter="url(#bld-g)"/><path d="M538.00,461.00 C540.33,461.25 546.67,462.00 552.00,462.50 C557.33,463.00 564.00,463.58 570.00,464.00 C576.00,464.42 582.50,464.25 588.00,465.00 C593.50,465.75 598.50,466.87 603.00,468.50 C607.50,470.13 611.70,471.88 615.00,474.80 C618.30,477.72 621.08,481.08 622.80,486.00 C624.52,490.92 624.52,498.55 625.30,504.30 C626.08,510.05 626.55,515.38 627.50,520.50 C628.45,525.62 631.92,530.42 631.00,535.00 C630.08,539.58 626.33,547.33 622.00,548.00 C617.67,548.67 610.58,543.58 605.00,539.00 C599.42,534.42 593.72,526.28 588.50,520.50 C583.28,514.72 578.87,509.55 573.70,504.30 C568.53,499.05 562.53,493.27 557.50,489.00 C552.47,484.73 547.58,482.20 543.50,478.70 C539.42,475.20 533.92,470.95 533.00,468.00 C532.08,465.05 537.17,462.17 538.00,461.00" fill="#ff1010" fill-opacity="0.22" filter="url(#ble-g)"/><circle cx="610.2" cy="483.2" r="9.5" fill="#ffffff" fill-opacity="0.97" filter="url(#bld-g)"/><path d="M505.00,417.50 C506.50,419.60 511.27,426.28 514.00,430.10 C516.73,433.92 518.95,436.97 521.40,440.40 C523.85,443.83 526.25,447.63 528.70,450.70 C531.15,453.77 533.63,456.47 536.10,458.80 C538.57,461.13 539.82,462.85 543.50,464.70 C547.18,466.55 553.30,468.10 558.20,469.90 C563.10,471.70 569.08,472.23 572.90,475.50 C576.72,478.77 578.50,484.70 581.10,489.50 C583.70,494.30 584.82,500.12 588.50,504.30 C592.18,508.48 599.12,512.28 603.20,514.60 C607.28,516.92 610.13,516.88 613.00,518.20 C615.87,519.52 618.60,520.25 620.40,522.50 C622.20,524.75 622.48,528.43 623.80,531.70 C625.12,534.97 626.32,538.62 628.30,542.10 C630.28,545.58 632.73,549.12 635.70,552.60 C638.67,556.08 643.12,559.90 646.10,563.00 C649.08,566.10 651.12,568.72 653.60,571.20 C656.08,573.68 657.93,575.10 661.00,577.90 C664.07,580.70 670.17,586.32 672.00,588.00" fill="none" stroke="#ff0000" stroke-width="8" filter="url(#blc-g)"/><path d="M543.50,464.70 C545.95,465.57 553.30,468.10 558.20,469.90 C563.10,471.70 569.08,472.23 572.90,475.50 C576.72,478.77 578.50,484.70 581.10,489.50 C583.70,494.30 584.82,500.12 588.50,504.30 C592.18,508.48 599.12,512.28 603.20,514.60 C607.28,516.92 610.13,516.88 613.00,518.20 C615.87,519.52 618.60,520.25 620.40,522.50 C622.20,524.75 622.48,528.43 623.80,531.70 C625.12,534.97 627.55,540.37 628.30,542.10" fill="none" stroke="#ff1010" stroke-width="9.5" stroke-linecap="round" filter="url(#bld-g)"/><path d="M558.20,469.90 C560.65,470.83 569.08,472.23 572.90,475.50 C576.72,478.77 578.50,484.70 581.10,489.50 C583.70,494.30 584.82,500.12 588.50,504.30 C592.18,508.48 599.12,512.28 603.20,514.60 C607.28,516.92 610.13,516.88 613.00,518.20 C615.87,519.52 618.60,520.25 620.40,522.50 C622.20,524.75 623.23,530.17 623.80,531.70" fill="none" stroke="#fa0808" stroke-width="6.5" stroke-linecap="round" filter="url(#blc-g)" stroke-opacity="0.8"/><path d="M505.00,417.50 C506.50,419.60 511.27,426.28 514.00,430.10 C516.73,433.92 518.95,436.97 521.40,440.40 C523.85,443.83 526.25,447.63 528.70,450.70 C531.15,453.77 533.63,456.47 536.10,458.80 C538.57,461.13 539.82,462.85 543.50,464.70 C547.18,466.55 553.30,468.10 558.20,469.90 C563.10,471.70 569.08,472.23 572.90,475.50 C576.72,478.77 578.50,484.70 581.10,489.50 C583.70,494.30 584.82,500.12 588.50,504.30 C592.18,508.48 599.12,512.28 603.20,514.60 C607.28,516.92 610.13,516.88 613.00,518.20 C615.87,519.52 618.60,520.25 620.40,522.50 C622.20,524.75 622.48,528.43 623.80,531.70 C625.12,534.97 626.32,538.62 628.30,542.10 C630.28,545.58 632.73,549.12 635.70,552.60 C638.67,556.08 643.12,559.90 646.10,563.00 C649.08,566.10 651.12,568.72 653.60,571.20 C656.08,573.68 657.93,575.10 661.00,577.90 C664.07,580.70 670.17,586.32 672.00,588.00" fill="none" stroke="#f40000" stroke-width="5.2" filter="url(#blc-g)"/><path d="M505.00,417.50 C506.50,419.60 511.27,426.28 514.00,430.10 C516.73,433.92 518.95,436.97 521.40,440.40 C523.85,443.83 526.25,447.63 528.70,450.70 C531.15,453.77 533.63,456.47 536.10,458.80 C538.57,461.13 539.82,462.85 543.50,464.70 C547.18,466.55 553.30,468.10 558.20,469.90 C563.10,471.70 569.08,472.23 572.90,475.50 C576.72,478.77 578.50,484.70 581.10,489.50 C583.70,494.30 584.82,500.12 588.50,504.30 C592.18,508.48 599.12,512.28 603.20,514.60 C607.28,516.92 610.13,516.88 613.00,518.20 C615.87,519.52 618.60,520.25 620.40,522.50 C622.20,524.75 622.48,528.43 623.80,531.70 C625.12,534.97 626.32,538.62 628.30,542.10 C630.28,545.58 632.73,549.12 635.70,552.60 C638.67,556.08 643.12,559.90 646.10,563.00 C649.08,566.10 651.12,568.72 653.60,571.20 C656.08,573.68 657.93,575.10 661.00,577.90 C664.07,580.70 670.17,586.32 672.00,588.00" fill="none" stroke="url(#darkA-g)" stroke-width="3.6" filter="url(#blc-g)"/><path d="M505.00,417.50 C506.50,419.60 511.27,426.28 514.00,430.10 C516.73,433.92 518.95,436.97 521.40,440.40 C523.85,443.83 526.25,447.63 528.70,450.70 C531.15,453.77 533.63,456.47 536.10,458.80 C538.57,461.13 539.82,462.85 543.50,464.70 C547.18,466.55 553.30,468.10 558.20,469.90 C563.10,471.70 569.08,472.23 572.90,475.50 C576.72,478.77 578.50,484.70 581.10,489.50 C583.70,494.30 584.82,500.12 588.50,504.30 C592.18,508.48 599.12,512.28 603.20,514.60 C607.28,516.92 610.13,516.88 613.00,518.20 C615.87,519.52 618.60,520.25 620.40,522.50 C622.20,524.75 622.48,528.43 623.80,531.70 C625.12,534.97 626.32,538.62 628.30,542.10 C630.28,545.58 632.73,549.12 635.70,552.60 C638.67,556.08 643.12,559.90 646.10,563.00 C649.08,566.10 651.12,568.72 653.60,571.20 C656.08,573.68 657.93,575.10 661.00,577.90 C664.07,580.70 670.17,586.32 672.00,588.00" fill="none" stroke="url(#darkB-g)" stroke-width="3.4" filter="url(#blc-g)"/><path d="M505.00,417.50 C506.50,419.60 511.27,426.28 514.00,430.10 C516.73,433.92 518.95,436.97 521.40,440.40 C523.85,443.83 526.25,447.63 528.70,450.70 C531.15,453.77 533.63,456.47 536.10,458.80 C538.57,461.13 539.82,462.85 543.50,464.70 C547.18,466.55 553.30,468.10 558.20,469.90 C563.10,471.70 569.08,472.23 572.90,475.50 C576.72,478.77 578.50,484.70 581.10,489.50 C583.70,494.30 584.82,500.12 588.50,504.30 C592.18,508.48 599.12,512.28 603.20,514.60 C607.28,516.92 610.13,516.88 613.00,518.20 C615.87,519.52 618.60,520.25 620.40,522.50 C622.20,524.75 622.48,528.43 623.80,531.70 C625.12,534.97 626.32,538.62 628.30,542.10 C630.28,545.58 632.73,549.12 635.70,552.60 C638.67,556.08 643.12,559.90 646.10,563.00 C649.08,566.10 651.12,568.72 653.60,571.20 C656.08,573.68 657.93,575.10 661.00,577.90 C664.07,580.70 670.17,586.32 672.00,588.00" fill="none" stroke="url(#coreA-g)" stroke-width="2.6" filter="url(#blb-g)"/><path d="M505.00,417.50 C506.50,419.60 511.27,426.28 514.00,430.10 C516.73,433.92 518.95,436.97 521.40,440.40 C523.85,443.83 526.25,447.63 528.70,450.70 C531.15,453.77 533.63,456.47 536.10,458.80 C538.57,461.13 539.82,462.85 543.50,464.70 C547.18,466.55 553.30,468.10 558.20,469.90 C563.10,471.70 569.08,472.23 572.90,475.50 C576.72,478.77 578.50,484.70 581.10,489.50 C583.70,494.30 584.82,500.12 588.50,504.30 C592.18,508.48 599.12,512.28 603.20,514.60 C607.28,516.92 610.13,516.88 613.00,518.20 C615.87,519.52 618.60,520.25 620.40,522.50 C622.20,524.75 622.48,528.43 623.80,531.70 C625.12,534.97 626.32,538.62 628.30,542.10 C630.28,545.58 632.73,549.12 635.70,552.60 C638.67,556.08 643.12,559.90 646.10,563.00 C649.08,566.10 651.12,568.72 653.60,571.20 C656.08,573.68 657.93,575.10 661.00,577.90 C664.07,580.70 670.17,586.32 672.00,588.00" fill="none" stroke="url(#coreB-g)" stroke-width="2.4" filter="url(#bla-g)"/><path d="M500.00,456.00 C502.33,457.08 509.22,460.18 514.00,462.50 C518.78,464.82 523.78,467.20 528.70,469.90 C533.62,472.60 538.52,475.68 543.50,478.70 C548.48,481.72 553.35,483.97 558.60,488.00 C563.85,492.03 569.83,497.67 575.00,502.90 C580.17,508.13 584.22,513.45 589.60,519.40 C594.98,525.35 602.58,533.17 607.30,538.60 C612.02,544.03 614.92,548.02 617.90,552.00 C620.88,555.98 622.52,558.25 625.20,562.50 C627.88,566.75 631.53,572.92 634.00,577.50 C636.47,582.08 639.00,587.92 640.00,590.00 L490,590.0 L490,456.0 Z" fill="#ffffff" filter="url(#bla-g)"/><g clip-path="url(#ll-g)"><path d="M500.00,486.00 C502.33,484.60 510.20,479.62 514.00,477.60 C517.80,475.58 519.85,474.55 522.80,473.90 C525.75,473.25 528.75,473.12 531.70,473.70 C534.65,474.28 537.32,475.52 540.50,477.40 C543.68,479.28 547.88,482.73 550.80,485.00 C553.72,487.27 556.80,490.00 558.00,491.00" fill="none" stroke="url(#sec1-g)" stroke-width="8.5" filter="url(#blc-g)"/><path d="M500.00,486.00 C502.33,484.60 510.20,479.62 514.00,477.60 C517.80,475.58 519.85,474.55 522.80,473.90 C525.75,473.25 528.75,473.12 531.70,473.70 C534.65,474.28 537.32,475.52 540.50,477.40 C543.68,479.28 547.88,482.73 550.80,485.00 C553.72,487.27 556.80,490.00 558.00,491.00" fill="none" stroke="url(#sec1-g)" stroke-width="5" filter="url(#blb-g)"/><path d="M612.80,592.00 C612.93,589.65 612.77,582.48 613.60,577.90 C614.43,573.32 616.97,568.48 617.80,564.50 C618.63,560.52 619.08,556.98 618.60,554.00 C618.12,551.02 616.52,548.83 614.90,546.60 C613.28,544.37 610.88,542.53 608.90,540.60 C606.92,538.67 603.98,535.93 603.00,535.00" fill="none" stroke="url(#sec2-g)" stroke-width="8" filter="url(#blc-g)"/><path d="M612.80,592.00 C612.93,589.65 612.77,582.48 613.60,577.90 C614.43,573.32 616.97,568.48 617.80,564.50 C618.63,560.52 619.08,556.98 618.60,554.00 C618.12,551.02 616.52,548.83 614.90,546.60 C613.28,544.37 610.88,542.53 608.90,540.60 C606.92,538.67 603.98,535.93 603.00,535.00" fill="none" stroke="url(#sec2-g)" stroke-width="4.5" filter="url(#blb-g)"/></g></g>
<circle cx="611.1" cy="482.20" r="2.9" fill="#10e622"/>
<rect x="561.5" y="525.80" width="5.8" height="5.8" fill="#000"/>
<rect x="514.1" y="409.1" width="170.20" height="169.50" fill="none" stroke="#333" stroke-width="1.1"/>
<text x="548.20" y="591.10" font-size="12.08" text-anchor="middle" fill="#111" textLength="25.61" lengthAdjust="spacingAndGlyphs">0.08</text>
<text x="511.80" y="549.40" font-size="12.08" text-anchor="end" fill="#111" textLength="25.61" lengthAdjust="spacingAndGlyphs">0.08</text>
<text x="583.63" y="591.10" font-size="12.08" text-anchor="middle" fill="#111" textLength="25.61" lengthAdjust="spacingAndGlyphs">0.10</text>
<text x="511.80" y="514.03" font-size="12.08" text-anchor="end" fill="#111" textLength="25.61" lengthAdjust="spacingAndGlyphs">0.10</text>
<text x="619.06" y="591.10" font-size="12.08" text-anchor="middle" fill="#111" textLength="25.61" lengthAdjust="spacingAndGlyphs">0.12</text>
<text x="511.80" y="478.66" font-size="12.08" text-anchor="end" fill="#111" textLength="25.61" lengthAdjust="spacingAndGlyphs">0.12</text>
<text x="654.49" y="591.10" font-size="12.08" text-anchor="middle" fill="#111" textLength="25.61" lengthAdjust="spacingAndGlyphs">0.14</text>
<text x="511.80" y="443.29" font-size="12.08" text-anchor="end" fill="#111" textLength="25.61" lengthAdjust="spacingAndGlyphs">0.14</text>
<path d="M548.20 578.60 v-4 M548.20 409.10 v4 M514.1 545.00 h4 M684.3 545.00 h-4 M583.63 578.60 v-4 M583.63 409.10 v4 M514.1 509.63 h4 M684.3 509.63 h-4 M619.06 578.60 v-4 M619.06 409.10 v4 M514.1 474.26 h4 M684.3 474.26 h-4 M654.49 578.60 v-4 M654.49 409.10 v4 M514.1 438.89 h4 M684.3 438.89 h-4" stroke="#333" stroke-width="1" fill="none"/>
<text x="469.20" y="419.70" font-size="15.90" text-anchor="start" fill="#111">(g)</text>
<g>
<text x="576.76" y="604.90" font-size="12.29" text-anchor="start" fill="#111" textLength="6.78" lengthAdjust="spacingAndGlyphs">k</text>
<text x="583.54" y="607.70" font-size="10.40" text-anchor="start" fill="#111" textLength="5.86" lengthAdjust="spacingAndGlyphs">x</text>
<text x="593.12" y="604.90" font-size="12.29" text-anchor="start" fill="#111" textLength="28.52" lengthAdjust="spacingAndGlyphs">(1/Å)</text>
</g>
<g transform="rotate(-90 479.80 493.85)">
<text x="457.36" y="493.85" font-size="12.29" text-anchor="start" fill="#111" textLength="6.78" lengthAdjust="spacingAndGlyphs">k</text>
<text x="464.14" y="496.65" font-size="10.40" text-anchor="start" fill="#111" textLength="5.86" lengthAdjust="spacingAndGlyphs">y</text>
<text x="473.72" y="493.85" font-size="12.29" text-anchor="start" fill="#111" textLength="28.52" lengthAdjust="spacingAndGlyphs">(1/Å)</text>
</g>
</g>
</svg>
</body></html>
